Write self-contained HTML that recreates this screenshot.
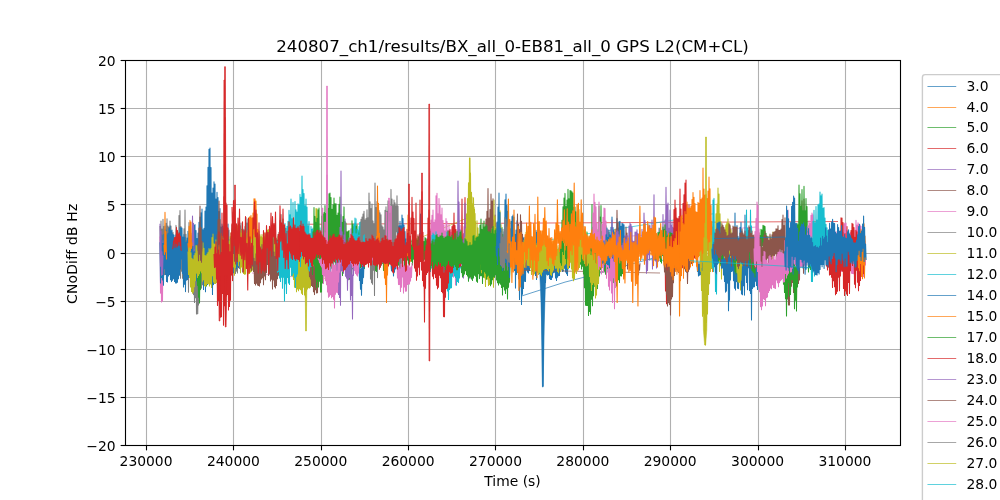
<!DOCTYPE html>
<html lang="en"><head><meta charset="utf-8"><title>CNoDiff GPS L2(CM+CL)</title>
<style>html,body{margin:0;padding:0;background:#fff;overflow:hidden}svg{display:block}</style></head>
<body><svg width="1000" height="500" viewBox="0 0 1000 500" font-family="'DejaVu Sans','Liberation Sans',sans-serif">
<rect width="1000" height="500" fill="#fff"/>
<defs><filter id="gray" x="0" y="0" width="1000" height="500" filterUnits="userSpaceOnUse"><feOffset dx="0" dy="0"/></filter><clipPath id="ax"><rect x="125.0" y="60.0" width="775.0" height="385.0"/></clipPath></defs>
<g stroke="#b0b0b0" stroke-width="1.111" fill="none"><line x1="146.50" y1="60.5" x2="146.50" y2="445.5"/><line x1="233.50" y1="60.5" x2="233.50" y2="445.5"/><line x1="321.50" y1="60.5" x2="321.50" y2="445.5"/><line x1="408.50" y1="60.5" x2="408.50" y2="445.5"/><line x1="495.50" y1="60.5" x2="495.50" y2="445.5"/><line x1="583.50" y1="60.5" x2="583.50" y2="445.5"/><line x1="670.50" y1="60.5" x2="670.50" y2="445.5"/><line x1="758.50" y1="60.5" x2="758.50" y2="445.5"/><line x1="845.50" y1="60.5" x2="845.50" y2="445.5"/><line x1="125.5" y1="397.50" x2="900.5" y2="397.50"/><line x1="125.5" y1="349.50" x2="900.5" y2="349.50"/><line x1="125.5" y1="301.50" x2="900.5" y2="301.50"/><line x1="125.5" y1="253.50" x2="900.5" y2="253.50"/><line x1="125.5" y1="204.50" x2="900.5" y2="204.50"/><line x1="125.5" y1="156.50" x2="900.5" y2="156.50"/><line x1="125.5" y1="108.50" x2="900.5" y2="108.50"/></g>
<g clip-path="url(#ax)" fill="none" stroke-width="0.694" stroke-linejoin="round"><path d="M160,226.1l.5,37 .5-42 .5,47.3 .5-39.4 .5,39 .5-48.7 .5,50.7 .5-43.5 .5,48.2 .5-45.4 .5,40.2 .5-46.2 .5,34 .5-38.6 .5,39.8 .5-32.5 .5,40.5 .5-39.1 .5,28.7 .5-35.1 .5,43.1 .5-38 .5,43.4 .5-36.6 .5,36 .5-36.7 .5,38.3 .5-28.3 .5,32 .5-30.5 .5,28 .5-46.3 .5,54.5 .5-48.2 .5,42 .5-41 .5,38.7 .5-55.8 .5,38.6 .5-43.7 .5,67.8 .5-51.7 .5,44.5 .5-32.6 .5,39.7 .5-39.2 .5,41.4 .5-51.7 .5,52.8 .5-71.5 .5,65.2 .5-41 .5,45 .5-38.5 .5,38.7 .5-40.4 .5,53.3 .5-69.9 .5,54.7 .5-35.7 .5,32.7 .5-40.8 .5,44.4 .5-32.9 .5,43.8 .5-45.7 .5,51.7 .5-42.4 .5,50.2 .5-53.3 .5,48.7 .5-57 .5,73.2 .5-67.8 .5,57.7 .5-63.6 .5,64.6 .5-57.5 .5,39 .5-55.1 .5,44.1 .5-31.5 .5,44.2 .5-52.5 .5,49.2 .5-53.1 .5,40.9 .5-30.3 .5,35.2 .5-32.4 .5,24.1 .5-32 .5,26 .5-22.3 .5,31.4 .5-26.7 .5,18.6 .5-30.1 .5,31.5 .5-23.9 .5,34.9 .5-34 .5,33.1 .5-31.1 .5,31 .5-23.2 .5,23.7 .5-30.9 .5,24.5 .5-28.1 .5,34.2 .5-34.2 .5,30.3 .5-29.1 .5,24 .5-31.1 .5,27.4 .5-18.9 .5,23.3 .5-26.7 .5,23.7 .5-26.6 .5,21.4 .5-22.4 .5,25.6 .5-22 .5,24.1 .5-16.2 .5,26.1 .5-27.3 .5,27.2 .5-26 .5,21.8 .5-31.4 .5,18.6 .5-26.7 .5,25.4 .5-26.1 .5,31.6 .5-21.4 .5,25.9 .5-29.5 .5,21.7 .5-24.4 .5,36.5 .5-26.1 .5,28.6 .5-33.1 .5,33.7 .5-23.9 .5,23.8 .5-26 .5,23.7 .5-30.9 .5,32.7 .5-37.1 .5,27.9 .5-31 .5,35.8 .5-42.8 .5,30.2 .5-32.8 .5,35.5 .5-29.3 .5,42.7 .5-42.9 .5,32.2 .5-31.6 .5,39.7 .5-43 .5,29.6 .5-38.4 .5,46.7 .5-41.2 .5,39.4 .5-43.6 .5,41.4 .5-39.9 .5,29 .5-32.7 .5,39.2 .5-31.7 .5,32.4 .5-30.3 .5,30.9 .5-36.2 .5,41.1 .5-29.4 .5,20.4 .5-23.1 .5,32 .5-29.5 .5,26.6 .5-19.5" stroke="#7f7f7f" stroke-width="1.05"/><path d="M196.40,277.2 L197.15,314.0 L197.85,314.0 L198.60,277.2" fill="#7f7f7f" stroke="#7f7f7f" stroke-width="0.7"/><path d="M160,236.4l.5,56.7 .5-53.4 .5,62.3 .5-59.4 .5,58.4 .5-60.3 .5,37.6" stroke="#e377c2" stroke-width="1.05"/><path d="M160,242.2l.5,40.8 .5-43 .5,37.4 .5-42.5 .5,45 .5-36.5 .5,41.9 .5-51 .5,34.5 .5-42.7 .5,48.3 .5-44.5 .5,51.6 .5-46.8 .5,47.2 .5-48.6 .5,42.7 .5-47.4 .5,46 .5-48.6 .5,53.7 .5-49 .5,50.9 .5-51.5 .5,50.2 .5-46 .5,44.5 .5-43.7 .5,46.4 .5-41.4 .5,42.8 .5-48.2 .5,48.3 .5-44.2 .5,43.4 .5-44.7 .5,41.3 .5-42.9 .5,39.4 .5-47.8 .5,41.4 .5-41.2 .5,31.3 .5-31.1 .5,45.6 .5-36.4 .5,49.9 .5-52.4 .5,49.6 .5-46.9 .5,54.3 .5-49.4 .5,37.9 .5-42.2 .5,41.7 .5-48.3 .5,46.1 .5-43.8 .5,42.2 .5-44.1 .5,39.7 .5-35.6 .5,44.4 .5-40.1 .5,43.5 .5-46.8 .5,35.5 .5-47.1 .5,44.1 .5-44.9 .5,52.2 .5-46.2 .5,50.4 .5-42.4 .5,47.2 .5-52.7 .5,45.1 .5-55.8 .5,48.4 .5-53.7 .5,54.9 .5-59.1 .5,58.8 .5-62.4 .5,70.1 .5-49.5 .5,59.8 .5-61.3 .5,57 .5-74.2 .5,80.8 .5-84.8 .5,76 .5-97.3 .5,98.8 .5-117.3 .5,109.8 .5-127.7 .5,122.2 .5-123.5 .5,135.2 .5-115.8 .5,116.3 .5-90.7 .5,101.4 .5-106.3 .5,96.5 .5-102.8 .5,84.9 .5-82.6 .5,90.7 .5-75.7 .5,73.6 .5-80.5 .5,75.7 .5-70.4 .5,78.7 .5-64.7 .5,65.5 .5-68.4 .5,70.1 .5-51.7 .5,60.7 .5-63.8 .5,58.1 .5-56 .5,47.8 .5-45.8 .5,50 .5-49.1 .5,43.8 .5-53.9 .5,50 .5-40.4 .5,43.4 .5-47.9 .5,53.8 .5-37.7 .5,35.8 .5-36.1 .5,33.7 .5-31.5 .5,32.9 .5-35.4 .5,28.9 .5-27 .5,31.2 .5-27.3 .5,24.3 .5-25.4 .5,22.2 .5-21 .5,23.5 .5-19.3 .5,17 .5-14.9 .5,16.1 .5-14.1 .5,11.5 .5-15" stroke="#1f77b4" stroke-width="1.05"/><path d="M300.0,224.3 452.0,223.5 838.0,221.5" stroke="#d62728"/><path d="M521.6,296.0 565.0,282.1 585.0,277.0 697.0,246.0" stroke="#1f77b4"/><path d="M252.0,273.0 318.0,279.0" stroke="#e377c2"/><path d="M312.0,283.5 468.0,217.6" stroke="#bcbd22"/><path d="M468.0,252.8 713.0,213.8" stroke="#17becf"/><path d="M160,223.7l.5,42.6 .5-35.1 .5,44 .5-23.5 .5,22.7 .5-18.8" stroke="#9467bd" stroke-width="1.05"/><path d="M191.5,245.2l.5,.2 .5-29.4 .5,29.6 .5-22.4 .5,27.9 .5-1.8" stroke="#9467bd" stroke-width="1.05"/><path d="M164,244.7l.5,9.7 .5-42.2 .5,39.6 .5-20.2 .5,28" stroke="#ff7f0e" stroke-width="1.05"/><path d="M188,243.1l.5,8.2 .5-24.9 .5,24.3 .5-30.3 .5,30.3 .5-28.7 .5,26.5 .5-6" stroke="#ff7f0e" stroke-width="1.05"/><path d="M202,249l.5,21 .5-15.3 .5,17.5 .5-16.5 .5,26.3 .5-20.9 .5,13.3 .5-17.2" stroke="#ff7f0e" stroke-width="1.05"/><path d="M246,240.2l.5,18.6 .5-20.9 .5,19.6 .5-26.9 .5,26.1 .5-39.2 .5,38.4 .5-39 .5,39.3 .5-40.8 .5,39.9 .5-37.3 .5,44.4 .5-49.3 .5,39.7 .5-54 .5,40.7 .5-40.8 .5,46.5 .5-44.2 .5,52.2 .5-39.3 .5,45.7 .5-30 .5,30.1 .5-19 .5,20.8 .5-10.2" stroke="#ff7f0e" stroke-width="1.05"/><path d="M172.5,249.1l.5-1.5 .5-6 .5-1 .5-3 .5,9.8 .5-10.1 .5,6.1 .5-16 .5,19.7 .5-16.7 .5,15.1 .5-11.5 .5,7.6 .5-8.7 .5,12.7 .5-9.3 .5,13.5 .5,.8" stroke="#d62728" stroke-width="1.05"/><path d="M197,258.9l.5,26.3 .5-16.1 .5,28.1 .5-27.9 .5,33.7 .5-36.8 .5,23.4 .5-26" stroke="#2ca02c" stroke-width="1.05"/><path d="M204,257.5l.5,20.1 .5-10.3 .5,16.5 .5-17.9 .5,20.1 .5-32.4 .5,17.5 .5-13.4" stroke="#2ca02c" stroke-width="1.05"/><path d="M188,251.4l.5,23 .5-26.3 .5,29.5 .5-29.9 .5,39.3 .5-34.3 .5,38.8 .5-33.2 .5,34.9 .5-33.7 .5,32.6 .5-36.6 .5,31.2 .5-33.3 .5,27.2 .5-35 .5,27.5 .5-27.4 .5,31.8 .5-26.1 .5,24.1 .5-23.7 .5,21.9 .5-25.3 .5,22.6 .5-22.8 .5,24.6 .5-20.8 .5,29.3 .5-38.4 .5,36.9 .5-31.6 .5,37.6 .5-30.2 .5,30.6 .5-30.4 .5,29 .5-30.7 .5,29.3 .5-31 .5,31.4 .5-35.3 .5,37.4 .5-36.2 .5,34.2 .5-35.6 .5,39.3 .5-50 .5,38.1 .5-41.6 .5,47.9 .5-38.2 .5,39.7 .5-39.2 .5,39.1 .5-43.6 .5,42.7 .5-37.6 .5,26.1 .5-35.1 .5,40.2 .5-29.1 .5,28.5 .5-36.9 .5,23.3 .5-28.1 .5,31.1 .5-28.6 .5,33.5 .5-30.7 .5,30.1 .5-33.7 .5,34 .5-36.4 .5,28.3 .5-29.3 .5,31.2 .5-23.5 .5,32.3 .5-27.2 .5,29.8 .5-33.9 .5,28.1 .5-32.2 .5,33.2 .5-36.9 .5,28.7 .5-33 .5,26.1 .5-25.2 .5,37.3 .5-25.8 .5,34.2 .5-36.4 .5,28.7 .5-41.1 .5,30.3 .5-30.9 .5,28.1 .5-28.7 .5,40.5 .5-39.8 .5,35.3 .5-31.7 .5,43.1 .5-39.6 .5,34 .5-36.7 .5,37.3 .5-29.6 .5,35.5 .5-31.6 .5,32.2 .5-29.5 .5,29.4 .5-41 .5,35.3 .5-28.5 .5,34 .5-29.9 .5,29.7 .5-27 .5,26.9 .5-28.1 .5,26.5 .5-32.5 .5,31.8 .5-32.6 .5,31.3 .5-40.2 .5,31.3 .5-26.1 .5,34.3 .5-30.9 .5,32.2 .5-34.3 .5,29.1 .5-25.4 .5,30.4 .5-31.6 .5,25 .5-32.3 .5,29.9 .5-26.6 .5,30.4 .5-28.3 .5,24.4 .5-26.8 .5,30.5 .5-27.2 .5,31.3 .5-32.2 .5,30.9 .5-35.3 .5,32.9 .5-30.9 .5,30.1 .5-34.3 .5,33.3 .5-33.9 .5,25.3 .5-25.8 .5,35.3 .5-34.3 .5,34.2 .5-35.3 .5,37.8 .5-36.9 .5,37.2 .5-36.4 .5,34.1 .5-26 .5,30.1 .5-29.3 .5,32.2 .5-33.9 .5,34.1 .5-28.7 .5,26.8 .5-33.7 .5,34.6 .5-33 .5,33.9 .5-30 .5,25.9 .5-27.7 .5,32.1 .5-28.4 .5,25.4 .5-26.3 .5,26.7 .5-27.6 .5,28.9 .5-26.6 .5,26.7 .5-29.5 .5,25.6 .5-31.2 .5,31.4 .5-26.6 .5,26.3 .5-29.8 .5,28.2 .5-29.9 .5,28.4 .5-27.9 .5,32.2 .5-29.3 .5,37 .5-35.4 .5,38.9 .5-31.5 .5,39.2 .5-40.2 .5,34.3 .5-40.9 .5,51.4 .5-46.4 .5,43.6 .5-41.3 .5,43.1 .5-45.7 .5,43.6 .5-47.2 .5,48.3 .5-47.5 .5,51 .5-39.1 .5,40.2 .5-45.1 .5,38 .5-50.5 .5,58.2 .5-50.5 .5,52.6 .5-54.1 .5,48 .5-51.7 .5,49.6 .5-39.4 .5,38.2 .5-38.8 .5,39 .5-44.2 .5,43.3 .5-47.8 .5,38.3 .5-43.8 .5,35.3 .5-38.6 .5,41 .5-41.3 .5,41.8 .5-49.7 .5,38.5 .5-52.2 .5,47.3 .5-47 .5,62.9 .5-39.2 .5,37.2 .5-32.7 .5,27.7 .5-17.4" stroke="#bcbd22" stroke-width="1.05"/><path d="M305.12,274.9 L305.65,331.0 L306.35,331.0 L306.88,274.9" fill="#bcbd22" stroke="#bcbd22" stroke-width="0.7"/><path d="M198,244.1l.5,16.7 .5-32.7 .5,26.2 .5-48.3 .5,54.3 .5-32.8 .5,34.8 .5-21.2" stroke="#8c564b" stroke-width="1.05"/><path d="M217,234.6l.5,22.7 .5-37.5 .5,24.7 .5-43.6 .5,43.2 .5-24.6 .5,38.3 .5-24.6" stroke="#8c564b" stroke-width="1.05"/><path d="M231,237.8l.5,14.1 .5-27.2 .5,25.7 .5-38.4 .5,41.4 .5-24.4 .5,32.3 .5-22.6" stroke="#8c564b" stroke-width="1.05"/><path d="M250,252.6l.5,15.4 .5-19.4 .5,21.8 .5-25.4 .5,20.9 .5-20.2 .5,25.9 .5-13.3 .5,25.1 .5-21.9 .5,23.5 .5-31.2 .5,29.5 .5-20.5 .5,22.3 .5-34.6 .5,34.9 .5-39.8 .5,40.5 .5-39.5 .5,36.2 .5-32.9 .5,29.1 .5-34.4 .5,33.2 .5-28.7 .5,35.6 .5-39.3 .5,30.5 .5-26.2 .5,30.1 .5-36.9 .5,29.5 .5-37.7 .5,29.8 .5-31.9 .5,42.8 .5-28.6 .5,27.1 .5-32.4 .5,39.4 .5-39.1 .5,37.4 .5-43.7 .5,53.5 .5-63.2 .5,54.1 .5-27.9 .5,34.8 .5-30.3 .5,31.5 .5-49.8 .5,47.3 .5-45.5 .5,38.7 .5-44.3 .5,40.8 .5-43 .5,42.6 .5-54.2 .5,37.8 .5-44 .5,44 .5-32.5 .5,24.6 .5-31.4 .5,29.8 .5-23.7 .5,28.2 .5-25.5 .5,29.8 .5-29.4 .5,25.9 .5-22.8 .5,26.8 .5-23.8 .5,21 .5-18 .5,18.2 .5-15.2" stroke="#8c564b" stroke-width="1.05"/><path d="M308,254.9l.5,14 .5-10.3 .5,18.1 .5-17.5 .5,19.7 .5-21 .5,27.5 .5-23.4 .5,24.4 .5-19.7 .5,25 .5-31.3 .5,34.2 .5-36.6 .5,31.7 .5-26.7 .5,29.9 .5-33.1 .5,32.9 .5-32.7 .5,25.8 .5-28.9 .5,16.9 .5-17.5 .5,15 .5-15" stroke="#8c564b" stroke-width="1.05"/><path d="M277,247.5l.5,24.7 .5-31 .5,30.3 .5-36.1 .5,42.7 .5-35.5 .5,38.9 .5-43.1 .5,38.8 .5-44.6 .5,55.6 .5-52.1 .5,41.1 .5-48.4 .5,72.2 .5-77.6 .5,60.3 .5-38.9 .5,48.6 .5-67.2 .5,51.2 .5-56.1 .5,61.8 .5-72.8 .5,74.1 .5-69.5 .5,52.4 .5-68.3 .5,76.7 .5-57 .5,56.4 .5-72.5 .5,70.3 .5-47.9 .5,52.8 .5-76.3 .5,86 .5-77.8 .5,66.9 .5-64.6 .5,61.9 .5-70 .5,51.7 .5-50.9 .5,50.7 .5-61 .5,72.1 .5-69.3 .5,60.7 .5-81.9 .5,77 .5-63.4 .5,51.3 .5-47.4 .5,62.2 .5-49.8 .5,56.4 .5-63.2 .5,61.8 .5-53.9 .5,56.2 .5-37.4 .5,43.9 .5-48.1 .5,49.5 .5-37.4 .5,33 .5-40.1 .5,39.8 .5-37.2 .5,30.4 .5-31.6 .5,32.4 .5-24.8 .5,24.3 .5-30.2 .5,38.2 .5-41.6 .5,40.8 .5-38 .5,38.9 .5-25.5 .5,28.4 .5-34.9 .5,26.3 .5-34.5 .5,28.9 .5-24.7 .5,28.6 .5-24.5 .5,31.2 .5-39.4 .5,35.9 .5-26.2 .5,27.4 .5-23.6 .5,26.4 .5-31.4 .5,21.6 .5-30.6 .5,29 .5-28.8 .5,36.8 .5-36.5 .5,42.6 .5-38.3 .5,40.3 .5-27.8 .5,20.6 .5-27.2 .5,27.7 .5-32.1 .5,31.5 .5-33.4 .5,29.9 .5-24.3 .5,27.4 .5-26.5 .5,25.4 .5-25.1 .5,24 .5-31.5 .5,29.1 .5-27.8 .5,33.8 .5-28.5 .5,31.3 .5-30.4 .5,18.4 .5-23.5 .5,21.7 .5-17.9 .5,23.6 .5-24.9 .5,22.7 .5-21.4 .5,26.3 .5-21.3 .5,25.3 .5-33.3 .5,26.3 .5-27.5 .5,37 .5-27.9 .5,25.2 .5-27.2 .5,21.3 .5-22.8 .5,22.8 .5-33 .5,25.6 .5-27.4 .5,24 .5-24.6 .5,29.2 .5-32.3 .5,36.3 .5-40.6 .5,38.1 .5-27.3 .5,27.2 .5-23 .5,26 .5-33.1 .5,32.9 .5-37 .5,34.1 .5-28.3 .5,30.4 .5-34.8 .5,29.4 .5-22 .5,29.5 .5-23.9 .5,25.7 .5-31.1 .5,22 .5-19.8 .5,23 .5-20 .5,25.6 .5-15" stroke="#17becf" stroke-width="1.05"/><path d="M368.0,245.0 810.0,268.0" stroke="#17becf"/><path d="M312,245.5l.5,28.9 .5-42.7 .5,32.4 .5-56.5 .5,58.4 .5-49.6 .5,62.7 .5-56.7 .5,65.2 .5-69.4 .5,63.1 .5-71.5 .5,77.2 .5-78.9 .5,73.2 .5-47.4 .5,58.2 .5-52.6 .5,52.5 .5-76 .5,66.9 .5-68.9 .5,64.4 .5-65.8 .5,48.5 .5-55.6 .5,65 .5-57 .5,56.4 .5-60.4 .5,51.5 .5-52.8 .5,56.8 .5-71.2 .5,52.1 .5-52.8 .5,68.7 .5-64.3 .5,70.7 .5-58.8 .5,54.4 .5-59.1 .5,60.2 .5-66.9 .5,58.2 .5-52.4 .5,65.7 .5-65.7 .5,59.8 .5-48.3 .5,59.9 .5-62.2 .5,58.1 .5-66.8 .5,50.5 .5-57.7 .5,71.6 .5-54 .5,50.2 .5-42.6 .5,53.3 .5-59.2 .5,44.1 .5-53.6 .5,59 .5-44.7 .5,48.9 .5-47.2 .5,45.6 .5-36.6 .5,45.1 .5-45.8 .5,35.6 .5-36.2 .5,48.6 .5-38.9 .5,39.7 .5-30.9 .5,27.8 .5-56.1 .5,47.9 .5-44.6 .5,45.8 .5-36.2 .5,29.3 .5-36.5 .5,40.4 .5-40.7 .5,31.6 .5-33 .5,35 .5-29.1 .5,38.1 .5-35.9 .5,30 .5-35.4" stroke="#2ca02c" stroke-width="1.05"/><path d="M360,236.6l.5,31.2 .5-36.5 .5,35.5 .5-31 .5,28.6 .5-23.9 .5,25.8 .5-25.4 .5,27.7 .5-29.6 .5,21.5 .5-28.7 .5,32.1 .5-26.5 .5,22.2 .5-26.1 .5,27.9 .5-26.2 .5,25.3 .5-27.9 .5,25.7 .5-26.2 .5,25.3 .5-16 .5,24.2 .5-22.4 .5,19.2 .5-25.2 .5,28.9 .5-20.1 .5,24.7 .5-21 .5,21.7 .5-30.6 .5,19.9 .5-27.1 .5,28.6 .5-22.9 .5,17.7 .5-17.4 .5,21.5 .5-18.9 .5,15.9 .5-20.6 .5,26 .5-19.4 .5,26.3 .5-26 .5,18.4 .5-22.3 .5,17.6 .5-23.4 .5,31.5 .5-31.4 .5,16.8 .5-16.7 .5,19.3 .5-19.2 .5,28.9 .5-27.4 .5,24.8 .5-13 .5,21.5 .5-20.7 .5,21.2 .5-30 .5,27 .5-22.3 .5,13.3 .5-21.7 .5,24.6 .5-16.3 .5,19.9 .5-20.3 .5,22.6 .5-24.1 .5,22.1 .5-17.2 .5,19.2 .5-26.3 .5,28.3 .5-21.3 .5,15.6 .5-19.4 .5,21.2 .5-29 .5,23.9 .5-14 .5,23.1 .5-17.2 .5,17 .5-26.8 .5,16.6 .5-15.3 .5,16.6 .5-14.5 .5,18.5 .5-20 .5,19 .5-18.3 .5,14.7 .5-14.5 .5,16.2 .5-21.2 .5,24.9 .5-22.8 .5,17 .5-17.8 .5,18.7 .5-22.7 .5,25.8 .5-24.8 .5,23.7 .5-22 .5,15.5 .5-19.2 .5,18.6 .5-17.9 .5,18.4 .5-19 .5,20.9 .5-16.9 .5,18 .5-13.1 .5,20.4 .5-24.1 .5,19 .5-19.2 .5,17.8 .5-21.7 .5,18.4 .5-17.4 .5,22.1 .5-19.8 .5,16.4 .5-19.1 .5,18.8 .5-13 .5,18.6 .5-17.6 .5,20.1 .5-16 .5,14.9 .5-15 .5,17.2 .5-23.2 .5,19.6 .5-14 .5,14.1 .5-20.9 .5,16.4 .5-15.6 .5,24.4 .5-20.9 .5,9.9 .5-16.3 .5,18.3 .5-18.2 .5,17.8 .5-17.2 .5,23.4 .5-17.6 .5,15.6 .5-21.6 .5,25.7 .5-13.9 .5,17.2 .5-19.2 .5,19.5 .5-17.1 .5,13.9 .5-13.1 .5,17.1 .5-13.1 .5,13.5 .5-18.4 .5,11.2 .5-18.8 .5,19.8 .5-24.4 .5,22.3 .5-22.4 .5,19.8 .5-12.1 .5,21.9 .5-22.2 .5,23.5 .5-25 .5,20.8 .5-27.1 .5,26.5 .5-26.6 .5,23.8 .5-15.5 .5,16.5 .5-16.1 .5,20.2 .5-20.1 .5,18.3 .5-22.8 .5,18.5 .5-19.6 .5,30 .5-21.5 .5,26 .5-30.1 .5,21.3 .5-21.9 .5,22.8 .5-31.9 .5,33.4 .5-28.4 .5,32.1 .5-21 .5,22.5 .5-23.6 .5,27.4 .5-29.7 .5,27.6 .5-27.4 .5,22 .5-28.3 .5,27.6 .5-25 .5,22.5 .5-27.5 .5,36.4 .5-37.9 .5,29.3 .5-29.1 .5,30.3 .5-26.4 .5,27.8 .5-25.5 .5,35.8 .5-39.5 .5,28.3 .5-34.1 .5,41.7 .5-39.1 .5,36.3 .5-37.5 .5,37.5 .5-44 .5,51.6 .5-47.1 .5,41 .5-56.3 .5,37 .5-29.3 .5,46.1 .5-46.8 .5,33.2 .5-39.8 .5,41.2 .5-28 .5,48.7 .5-38 .5,32.9 .5-38.4 .5,43.8 .5-40.5 .5,28.5 .5-35.2 .5,37.7 .5-40.4 .5,50.3 .5-59.1 .5,38.1 .5-35.1 .5,32.9 .5-28 .5,44 .5-40.1 .5,46.1 .5-45.1 .5,47.2 .5-41.4 .5,33.3 .5-38.2 .5,45.6 .5-51.2 .5,36.2 .5-41.7 .5,44.7 .5-37.6 .5,52.2 .5-46.7 .5,45.6 .5-45.3 .5,53.1 .5-50 .5,44.8 .5-33.7 .5,44.3 .5-41.6 .5,29.4 .5-32.1 .5,20.6 .5-20.1" stroke="#2ca02c" stroke-width="1.05"/><path d="M352,240l.5,19.6 .5-26.1 .5,25.2 .5-34.5 .5,33.6 .5-39.8 .5,50.4 .5-34.6 .5,39.3 .5-44.1 .5,33.4 .5-32.4 .5,37.1 .5-31.8 .5,34.3 .5-47.4 .5,30.8 .5-31.3 .5,43 .5-43.6 .5,40 .5-34.5 .5,31.4 .5-30.8 .5,30.6 .5-31.3 .5,33.5 .5-26 .5,25 .5-21.2 .5,24.7 .5-20.1 .5,19.9" stroke="#17becf" stroke-width="1.05"/><path d="M336,242.5l.5,39.5 .5-33.2 .5,40.4 .5-36.6 .5,42 .5-27.5 .5,30.3 .5-70 .5,77.9 .5-134.3 .5,99.4 .5-38.6 .5,39.6 .5-32 .5,33.8 .5-38.3 .5,28.4 .5-44.3 .5,57.3 .5-30.8 .5,32.6 .5-28.6 .5,40.7 .5-44.9 .5,34.5 .5-41.9 .5,39.9 .5-32 .5,54.3 .5-71.2 .5,66.6 .5-20.5 .5,44 .5-55.2 .5,11.6 .5-18.5" stroke="#9467bd" stroke-width="1.05"/><path d="M358,237.3l.5,13.3 .5-11.6 .5,15.1 .5-17 .5,22.4 .5-40.2 .5,25.9 .5-28.2 .5,25.5 .5-28.5 .5,20.7 .5-23.4 .5,22.4 .5-13.7 .5,28.9 .5-30.3 .5,24.5 .5-33.4 .5,44.6 .5-36.5 .5,34.2 .5-59 .5,55.8 .5-47 .5,77.1 .5-70.3 .5,74.2 .5-78.7 .5,80.2 .5-63.4 .5,49.3 .5-46.5 .5,71.8 .5-112.5 .5,76.7 .5-52.2 .5,49.5 .5-55.4 .5,76 .5-42.3 .5,27.2 .5-52 .5,47.4 .5-45.1 .5,39.9 .5-37.9 .5,50.4 .5-39.4 .5,37.3 .5-36.1 .5,33.3 .5-30.4 .5,25.8 .5-45.4 .5,51.6 .5-55 .5,43.7 .5-39.3 .5,26.6 .5-37 .5,44.6 .5-44.4 .5,43.6 .5-31.5 .5,31.5 .5-55.3 .5,69.3 .5-59.6 .5,61.1 .5-54.7 .5,41.4 .5-46.9 .5,60.6 .5-57.9 .5,41.9 .5-38.8 .5,26 .5-36 .5,65.6 .5-55.5 .5,51.7 .5-31.3 .5,42.1 .5-41.3 .5,41.4 .5-36.5 .5,27.6 .5-22.6 .5,22.9 .5-13.4" stroke="#7f7f7f" stroke-width="1.05"/><path d="M376.5,236l.5,27.5 .5-77.5 .5,58.2 .5-40.9 .5,49 .5-19.3" stroke="#ff7f0e" stroke-width="1.05"/><path d="M384,254.5l.5,23.6 .5-23.3 .5,29.7 .5-31 .5,48.9 .5-47.3 .5,20 .5-21.6" stroke="#ff7f0e" stroke-width="1.05"/><path d="M407,242.1l.5,13.6 .5-40.7 .5,41.1 .5-31 .5,33.3 .5-22 .5,25.3" stroke="#ff7f0e" stroke-width="1.05"/><path d="M359,267.1l.5,13.3 .5-11.5 .5,20.4 .5-20.9 .5,26.8 .5-29.5 .5,17.8 .5-18.9 .5,13 .5-15.2" stroke="#1f77b4" stroke-width="1.05"/><path d="M391,261.9l.5,9.1 .5-7 .5,6.6 .5-7.1 .5,12.5 .5-12 .5,8.2 .5-9.8 .5,6.6 .5-8.6" stroke="#1f77b4" stroke-width="1.05"/><path d="M398,231.8l.5,18.8 .5-24.9 .5,28.9 .5-33.4 .5,34.8 .5-30.2 .5,31.3 .5-42.1 .5,41.2 .5-37.8 .5,29.9 .5-23.2 .5,28.2 .5-21.8 .5,26 .5-19" stroke="#1f77b4" stroke-width="1.05"/><path d="M418.5,243.4l.5,18.7 .5-28.6 .5,22.9 .5-42.4 .5,43.3 .5-24.5 .5,27.3" stroke="#1f77b4" stroke-width="1.05"/><path d="M439.5,240.3l.5,17.8 .5-41.1 .5,46.2 .5-26.8 .5,25 .5-17.4 .5,19.3" stroke="#1f77b4" stroke-width="1.05"/><path d="M318,258l.5,1.6 .5-.3 .5,3.5 .5-3.3 .5,5.7 .5-6.2 .5,8 .5-10.4 .5,17.9 .5-27.2 .5,36.1 .5-24.4 .5,17 .5-43.3 .5,48 .5-19 .5,23.1 .5-109.9 .5,117.1 .5-30.7 .5,35.9 .5-33.6 .5,32.6 .5-33.8 .5,32.4 .5-22.7 .5,25.6 .5-36.3 .5,35.2 .5-34.9 .5,37.5 .5-34.2 .5,43 .5-42.7 .5,28.9 .5-30.7 .5,28.8 .5-21.2 .5,21.6 .5-29.8 .5,19 .5-18.8 .5,9.1 .5-10.8 .5,2.3 .5-5.5 .5,1.2 .5-1.3 .5,1.2 .5-.8 .5,1.6 .5-1.6 .5,1.5 .5-1.4 .5,.9 .5-1.2 .5,1.3 .5-1.5 .5,1.4 .5-1.6 .5,1.8 .5-1.6 .5,1.7 .5-1.1 .5,1.1 .5-1.3 .5,5.4 .5-4.3 .5,8.1 .5-11 .5,9.5 .5-9.5 .5,13.9 .5-12.7 .5,15.7 .5-13.3 .5,14.8 .5-15.7 .5,16.7 .5-19.4 .5,16.4 .5-13.7 .5,2.8 .5-4.3 .5,1.3 .5-1 .5,1.4 .5-1.7 .5,1.5 .5-1.5 .5,1.6 .5-1.2 .5,1.3 .5-1.3 .5,1.8 .5-1.7 .5,1.6 .5-1.5 .5,1.4 .5-1.6 .5,1.8 .5-1.6 .5,1.5 .5-1.1 .5,1.2 .5-1.1 .5,1 .5-1.9 .5,1.8 .5-1.6 .5,1.3 .5-1.6 .5,1.6 .5-1.5 .5,1.7 .5-1.7 .5,1.6 .5-1.2 .5,1.6 .5-1.9 .5,1.7 .5-1.6 .5,1.4 .5-1.6 .5,1.6 .5-1.5 .5,1.8 .5-1.5 .5,1.6 .5-1.5 .5,1.5 .5-1.3 .5,1.3 .5-1.4 .5,1.4 .5-11.9 .5,11.7 .5-12.7 .5,12.8 .5-1.6 .5,1.4 .5-38.1 .5,38.1 .5-1.3 .5,1.4 .5-21.1 .5,21 .5-1.4 .5,1 .5-1.2 .5,1.3 .5-1.3 .5,1.7 .5-1.7 .5,5.2 .5-3.6 .5,8.5 .5-6.4 .5,16.1 .5-10.6 .5,17.2 .5-17.2 .5,17 .5-15.3 .5,22.4 .5-27.4 .5,23.1 .5-31.3 .5,21 .5-15.8 .5,32 .5-27.5 .5,21.3 .5-20.2 .5,24.5 .5-21.6 .5,21.3 .5-25.7 .5,19.3 .5-18.2 .5,17.4 .5-19.7 .5,20.1 .5-16.4 .5,13.4 .5-14.4 .5,10.7 .5-14.5" stroke="#e377c2" stroke-width="1.05"/><path d="M326.45,247.1 L326.65,86.0 L327.35,86.0 L327.55,247.1" fill="#e377c2" stroke="#e377c2" stroke-width="0.7"/><path d="M322.06,257.5 L322.15,208.0 L322.85,208.0 L322.94,257.5" fill="#e377c2" stroke="#e377c2" stroke-width="0.7"/><path d="M324.67,266.1 L324.65,222.0 L325.35,222.0 L325.33,266.1" fill="#e377c2" stroke="#e377c2" stroke-width="0.7"/><path d="M386.17,251.9 L386.15,212.0 L386.85,212.0 L386.83,251.9" fill="#e377c2" stroke="#e377c2" stroke-width="0.7"/><path d="M388.62,249.8 L388.65,198.0 L389.35,198.0 L389.38,249.8" fill="#e377c2" stroke="#e377c2" stroke-width="0.7"/><path d="M390.67,251.1 L390.65,206.0 L391.35,206.0 L391.33,251.1" fill="#e377c2" stroke="#e377c2" stroke-width="0.7"/><path d="M428,234.4l.5,37.1 .5-45.4 .5,45.3 .5-42.3 .5,38.3 .5-47.4 .5,38.5 .5-43.2 .5,58 .5-63.2 .5,54.7 .5-42.6 .5,46.1 .5-48.4 .5,42.6 .5-66.7 .5,54.7 .5-57.2 .5,55.2 .5-34.7 .5,44.9 .5-60.3 .5,63.4 .5-56.7 .5,44 .5-34.3 .5,38.3 .5-45.2 .5,55.1 .5-42.4 .5,53.4 .5-49.3 .5,38.8 .5-32.4 .5,30.5 .5-43.2 .5,48.2 .5-45.2 .5,40.7 .5-31.8 .5,44.7 .5-51.3 .5,44.9 .5-39.3 .5,47.8 .5-44.9 .5,37.1 .5-39.7 .5,42.8 .5-40.7 .5,45.4 .5-43.9 .5,42.2 .5-42.1 .5,51.7 .5-46.3 .5,41.9 .5-38.4 .5,37.1 .5-37.9 .5,32.8 .5-37.2 .5,25.2 .5-36.9 .5,39.5 .5-26.6 .5,27.3 .5-24.9 .5,30.3 .5-36.1 .5,15.5 .5-23.8 .5,26.3 .5-26 .5,23.9 .5-23.6 .5,34.2 .5-25.9 .5,28.1 .5-22.3 .5,19.8 .5-18.2 .5,22.7 .5-28.1 .5,21.2 .5-18.6 .5,23.3 .5-12 .5,11.9 .5-12.8" stroke="#e377c2" stroke-width="1.05"/><path d="M430,236.5l.5,35 .5-28.1 .5,24.5 .5-32.6 .5,25.2 .5-27.5 .5,22.1 .5-20.5 .5,21.3 .5-20.2 .5,19.8 .5-23.8 .5,32.5 .5-19.2 .5,22.7 .5-27.2 .5,32.8 .5-28.9 .5,23.8 .5-30.9 .5,31.5 .5-29.1 .5,30.2 .5-26.1 .5,25.4 .5-24.5 .5,27.6 .5-26.7 .5,34.2 .5-36.5 .5,25.8 .5-31.1 .5,36.1 .5-42.1 .5,58.9 .5-36.5 .5,45 .5-45.4 .5,35.5 .5-33.7 .5,32.3 .5-42.4 .5,42.1 .5-37.6 .5,26.1 .5-38.7 .5,35.4 .5-29.5 .5,32.6 .5-34.3 .5,35.6 .5-35 .5,42.9 .5-28.2 .5,24.3 .5-26.2 .5,27.4 .5-28.4 .5,23.8 .5-25.7 .5,15.7 .5-20.7 .5,15.7 .5-13 .5,15.9 .5-18.3 .5,11.5 .5-15.8 .5,19.1 .5-16.8 .5,15.4 .5-13 .5,18.3 .5-18.1 .5,13.7 .5-13.4" stroke="#17becf" stroke-width="1.05"/><path d="M432,243l.5,33.2 .5-16.6 .5,19.1 .5-36.4 .5,31.5 .5-28.3 .5,31.9 .5-25.1 .5,32.9 .5-34.1 .5,37.7 .5-39.8 .5,38.3 .5-38.1 .5,26 .5-30.1 .5,32.7 .5-38.5 .5,52.2 .5-53 .5,54.2 .5-47.2 .5,71.1 .5-43.5 .5,43.6 .5-77.6 .5,58.2 .5-54.6 .5,45.9 .5-32.5 .5,31.9 .5-29.5 .5,24.4 .5-51.9 .5,40.8 .5-42.1 .5,43.4 .5-33 .5,32.7 .5-46.4 .5,45.9 .5-47.5 .5,30 .5-41.8 .5,51.8 .5-39.4 .5,30.1 .5-26 .5,28 .5-17.9 .5,16.1 .5-25 .5,29.1 .5-23 .5,30.1 .5-30.6 .5,29.9 .5-29.1 .5,20.1 .5-58.2 .5,63.5 .5-19.8 .5,22.8 .5-32.1 .5,22.3 .5-58.1 .5,66.8 .5-33.3 .5,27.3" stroke="#d62728" stroke-width="1.05"/><path d="M484,242.9l.5,15.1 .5-31.5 .5,30.1 .5-37.5 .5,41.2 .5-49.1 .5,50.3 .5-73 .5,77 .5-47.5 .5,41.1 .5-49.6 .5,53.4 .5-68.9 .5,57.9 .5-50.8 .5,39.1 .5-41.5 .5,60 .5-38.7 .5,45.7 .5-50.7 .5,45.5 .5-36.4 .5,37.1 .5-23.2 .5,23.9" stroke="#8c564b" stroke-width="1.05"/><path d="M455,253l.5,3.8 .5-14.4 .5,15 .5-23 .5,20.7 .5-74.1 .5,59.5 .5-38.6 .5,45.1 .5-17.4 .5,20.1 .5-9.9 .5,24.2 .5-17.3 .5,10.4 .5-16.6 .5,37.5 .5-43.9 .5,13 .5-44.1 .5,42.1 .5-11.2 .5,19.8 .5-7.7 .5,12.4" stroke="#9467bd" stroke-width="1.05"/><path d="M468.5,263.8l.5,8 .5-7.7 .5,14.5 .5-17.1 .5,4.2" stroke="#9467bd" stroke-width="1.05"/><path d="M465,237.6l.5,20.1 .5-28.8 .5,24.2 .5-31 .5,39.4 .5-48.1 .5,57.7 .5-72.5 .5,61.6 .5-102.2 .5,103.7 .5-55.7 .5,51.7 .5-60.7 .5,53.1 .5-46 .5,41.8 .5-38.6 .5,38.5 .5-32.3 .5,48 .5-25.2 .5,32 .5-47.6 .5,37.6 .5-30.4 .5,39.5 .5-30.1 .5,24.3 .5-26.9 .5,25.6 .5-22.8 .5,35.3 .5-42 .5,33.9 .5-32.2 .5,27.9 .5-30.6 .5,48 .5-38 .5,46.6 .5-44.3 .5,32.5 .5-37.4 .5,41.9 .5-29.9 .5,36.4 .5-52.7 .5,51.7 .5-47.7 .5,38.4 .5-32.7 .5,29.6 .5-43.4 .5,39.7 .5-34.5 .5,53.3 .5-87.3 .5,77.4 .5-60.9 .5,51.3 .5-40.6 .5,43.2 .5-40.1 .5,44.7 .5-48.6 .5,36.6 .5-43 .5,45.8 .5-55 .5,46.5 .5-32.9 .5,44.1 .5-24.8 .5,23.7 .5-26.2 .5,26.6 .5-12.3" stroke="#bcbd22" stroke-width="1.05"/><path d="M466.5,213.5l.5,22.6 .5-37.5 .5,37.6 .5-53.4 .5,42.9 .5-67.7 .5,70.3 .5-55.4 .5,66.4 .5-47 .5,50.8 .5-39 .5,34.6 .5-41 .5,42.9 .5-31.4 .5,32.6 .5-20.5" stroke="#bcbd22" stroke-width="1.05"/><path d="M430,242.4l.5,27.3 .5-25.2 .5,21 .5-24.5 .5,20.3 .5-22.1 .5,29.4 .5-23.5 .5,21.1 .5-26.4 .5,24.1 .5-28.3 .5,29.6 .5-30.6 .5,31.4 .5-28.9 .5,24.4 .5-23.9 .5,26.6 .5-28.3 .5,26.6 .5-26.8 .5,30.7 .5-33.3 .5,32.3 .5-29 .5,29.4 .5-27.4 .5,28 .5-29.4 .5,32.5 .5-32.4 .5,28.1 .5-29.1 .5,27.8 .5-32.8 .5,29.5 .5-24 .5,28.2 .5-28.4 .5,29.2 .5-28 .5,28.8 .5-31.2 .5,30.5 .5-25.5 .5,27.3 .5-28.8 .5,25.9 .5-31.4 .5,33.2 .5-26.3 .5,29.6 .5-38.1 .5,38.1 .5-32.2 .5,29.9 .5-31.5 .5,27.6 .5-31.3 .5,30.7 .5-32.2 .5,32.8 .5-24.4 .5,36.1 .5-32.4 .5,32.9 .5-32 .5,30.3 .5-35.5 .5,31.5 .5-30.3 .5,31.2 .5-29.3 .5,33.6 .5-29.2 .5,35.3 .5-35.7 .5,31.4 .5-34.4 .5,34.4 .5-31.4 .5,33.3 .5-34.2 .5,35.7 .5-44.3 .5,38.5 .5-39.3 .5,39.9 .5-34.1 .5,35.1 .5-38.2 .5,43.3 .5-44.1 .5,44.6 .5-45.1 .5,36.9 .5-39.7 .5,37.9 .5-46.5 .5,38.8 .5-45 .5,50.4 .5-40.1 .5,40.9 .5-46.9 .5,50 .5-46.3 .5,44.6 .5-44.4 .5,46 .5-48.8 .5,54.8 .5-53.2 .5,50.1 .5-44.9 .5,43.9 .5-43 .5,45.6 .5-46.5 .5,54.4 .5-52.1 .5,50.3 .5-54.7 .5,50.5 .5-53.1 .5,50.4 .5-43.1 .5,43.2 .5-46.6 .5,44.3 .5-46 .5,51.3 .5-46.6 .5,44.4 .5-47.3 .5,48.9 .5-48 .5,51.4 .5-47.3 .5,43.4 .5-47.6 .5,56 .5-50 .5,57.6 .5-51.8 .5,41.3 .5-40 .5,45.6 .5-50.7 .5,50 .5-48.5 .5,47.8 .5-40.1 .5,42.6 .5-45.2 .5,41.2 .5-31.9 .5,26.9 .5-21" stroke="#2ca02c" stroke-width="1.05"/><path d="M496,246.3l.5,9.6 .5-33.9 .5,42.4 .5-57.4 .5,40.6 .5-54.5 .5,62.9 .5-43.5 .5,52.9 .5-37 .5,33.4 .5-23.8 .5,32.6 .5-33.2 .5,30.4 .5-36 .5,23.5 .5-55.6 .5,62.7 .5-68.4 .5,71.3 .5-59.9 .5,52.2 .5-46.3 .5,55.2 .5-35.6 .5,46.6 .5-48.7 .5,31.6 .5-39.2 .5,38.5 .5-43.1 .5,48.4 .5-50 .5,43.2 .5-41.2 .5,53.6 .5-36.3 .5,53.8 .5-58 .5,44.4 .5-53.8 .5,46.7 .5-39.5 .5,50.9 .5-48.5 .5,69.3 .5-62.6 .5,40.6 .5-41.8 .5,68.7 .5-62.8 .5,52.5 .5-56.2 .5,50.4 .5-51 .5,43.8 .5-40.9 .5,41.3 .5-43.1 .5,31.5 .5-22.8 .5,24.7 .5-23.6 .5,24.7 .5-25.1 .5,22.6 .5-29.6 .5,18.9 .5-23.6 .5,31.3 .5-30.2 .5,33.9 .5-31.3 .5,28.7 .5-30.7 .5,31.4 .5-26.9 .5,33 .5-45.2 .5,49.2 .5-47.2 .5,35.5 .5-36.7 .5,41.3 .5-41.7 .5,42.7 .5-36.8 .5,35 .5-29.4 .5,37.9 .5-35.5 .5,103.3 .5-105.1 .5,54.9 .5-56.4 .5,34.9 .5-31 .5,37.3 .5-34 .5,25.9 .5-30.4 .5,31.2 .5-30.5 .5,29.8 .5-21.9 .5,26.1 .5-28.1 .5,28.9 .5-20.9 .5,20.9 .5-23 .5,20.9 .5-25.4 .5,20.9 .5-23 .5,22.4 .5-18.1 .5,23.9 .5-25.8 .5,28.2 .5-27.3 .5,24.1 .5-24.5 .5,23 .5-27.8 .5,27.7 .5-28.5 .5,24.4 .5-25.7 .5,17.3 .5-15.8 .5,24.3 .5-21.8 .5,21.3 .5-20.2 .5,17.4 .5-16.4 .5,20 .5-24.8 .5,26.7 .5-21.8 .5,23.6 .5-27 .5,20.2 .5-14.1 .5,12.9 .5-17.1" stroke="#1f77b4" stroke-width="1.05"/><path d="M541.37,279.0 L542.45,387.0 L543.15,387.0 L544.23,279.0" fill="#1f77b4" stroke="#1f77b4" stroke-width="0.7"/><path d="M539.4,266 L540.6,292 L541.6,322 L542.5,386 L543.2,386 L544.2,325 L545.2,292 L546.2,266Z" fill="#1f77b4" stroke="#1f77b4" stroke-width="0.5"/><path d="M500,243.3l.5,21.2 .5-31.7 .5,33.2 .5-36.7 .5,38.4 .5-30.6 .5,30.1 .5-37.9 .5,40.9 .5-52.6 .5,40.7 .5-38.9 .5,39.6 .5-32 .5,43 .5-45.9 .5,37.9 .5-21.4 .5,21.7 .5-17.4" stroke="#7f7f7f" stroke-width="1.05"/><path d="M516.5,239.5l.5,19.3 .5-44.8 .5,50.9 .5-40.7 .5,32 .5-26.7 .5,29.2 .5-44 .5,38.1 .5-31.6 .5,31.7 .5-18.7 .5,25" stroke="#8c564b" stroke-width="1.05"/><path d="M523.0,270.2 660.0,273.0" stroke="#8c564b"/><path d="M523,242.6l.5,21.2 .5-23.4 .5,26.8 .5-27.7 .5,22.5 .5-29.7 .5,27.4 .5-23.9 .5,29.5 .5-33.3 .5,33.6 .5-32.1 .5,32.1 .5-33.8 .5,35.9 .5-27.9 .5,34.6 .5-36.9 .5,31.7 .5-30.2 .5,36.1 .5-32.3 .5,30.9 .5-39.2 .5,36.8 .5-26 .5,23.6 .5-25.6 .5,29.3 .5-29.7 .5,31.5 .5-30.4 .5,28.4 .5-29.2 .5,31 .5-25.5 .5,27 .5-32.3 .5,28.6 .5-29.3 .5,27 .5-31.8 .5,31 .5-29 .5,28.7 .5-25 .5,24.8 .5-30.5 .5,31.6 .5-22.8 .5,24.3 .5-28 .5,25.4 .5-26.7 .5,32.9 .5-31.5 .5,32.3 .5-27.3 .5,23.9 .5-30.5 .5,28.6 .5-30.4 .5,25.6 .5-25 .5,27.9 .5-21.5 .5,21.4 .5-22.4 .5,25.8 .5-22.3 .5,23.5 .5-27.5 .5,22.7 .5-18.1 .5,21.7 .5-24.7 .5,22.8 .5-25.1 .5,24.3 .5-20.8 .5,21.8 .5-23.5 .5,19 .5-21.9 .5,20.7 .5-20.7 .5,17.9 .5-17.8 .5,24.7 .5-22.2 .5,22.6 .5-23.8 .5,20.2 .5-19.9" stroke="#bcbd22" stroke-width="1.05"/><path d="M560,244.1l.5,18.6 .5-27.1 .5,29.6 .5-44.9 .5,31.1 .5-44.6 .5,47.6 .5-56.3 .5,44.6 .5-49.3 .5,65 .5-52 .5,57.3 .5-63.6 .5,58 .5-68.8 .5,63.3 .5-53.8 .5,56.1 .5-64.4 .5,58.7 .5-58.5 .5,64.4 .5-63.4 .5,54.3 .5-53 .5,67.6 .5-53.4 .5,59 .5-59.2 .5,48.4 .5-43.6 .5,45.9 .5-35.3 .5,37.3 .5-25.9" stroke="#2ca02c" stroke-width="1.05"/><path d="M578,244l.5,19.8 .5-30.5 .5,27.4 .5-24.2 .5,27.7 .5-22.2 .5,26.9 .5-28.3 .5,25.7 .5-22.8 .5,30.4 .5-40.6 .5,54.4 .5-48 .5,65.5 .5-59.9 .5,60.2 .5-73.6 .5,73.5 .5-62 .5,72.1 .5-57.2 .5,53.3 .5-75.8 .5,78.3 .5-80 .5,65.2 .5-94.7 .5,101.2 .5-78.4 .5,68.4 .5-70.5 .5,60.9 .5-62.3 .5,61.3 .5-57.4 .5,58.9 .5-57.2 .5,59.1 .5-46.8 .5,39 .5-74.8 .5,69.9 .5-58.8 .5,52.5 .5-64 .5,68 .5-41.7 .5,35.7 .5-33.3 .5,33.8 .5-39.8 .5,42.5 .5-34.6 .5,38 .5-48.4 .5,45.1 .5-40.6 .5,38.7 .5-38.9 .5,35.6 .5-33.5 .5,39.1 .5-23.3 .5,31.4 .5-32.1 .5,34.4 .5-32.5 .5,35.6 .5-30.5 .5,28.2 .5-31 .5,30.8 .5-30.2 .5,33.6 .5-32.6 .5,33 .5-31.7 .5,26.3 .5-31 .5,30 .5-27.1 .5,29.9 .5-34 .5,27.2 .5-27.6 .5,27.9 .5-25.6 .5,23.2 .5-25.3 .5,19.9 .5-22.4 .5,19.7 .5-17.2 .5,18.1 .5-19" stroke="#2ca02c" stroke-width="1.05"/><path d="M570,247.9l.5,14.4 .5-17.5 .5,24.1 .5-31.8 .5,40.9 .5-34 .5,36.7 .5-53 .5,50.9 .5-56.1 .5,48.5 .5-41.9 .5,44.3 .5-51 .5,39.7 .5-57.1 .5,64.3 .5-59.9 .5,58.1 .5-39 .5,33.2 .5-36.1 .5,28.5 .5-20.2 .5,24.8 .5-28.5 .5,24.4 .5-24.9 .5,33.9 .5-33.7 .5,21.2 .5-18.3 .5,19.3 .5-14 .5,27.2 .5-22.7 .5,20.4 .5-20.8 .5,34.3 .5-25.2 .5,31 .5-26.9 .5,35.1 .5-38.8 .5,32.8 .5-44.8 .5,43 .5-32.2 .5,34.6 .5-31.2 .5,44.1 .5-34.8 .5,31.9 .5-41.8 .5,31.2 .5-29 .5,27.9 .5-23.3 .5,9.7" stroke="#bcbd22" stroke-width="1.05"/><path d="M592,238.4l.5,12.8 .5-38.2 .5,41.6 .5-60.6 .5,52.3 .5-44.1 .5,42.5 .5-38 .5,57 .5-40.5 .5,30.6 .5-21.7 .5,37 .5-67.1 .5,64.3 .5-44.2 .5,44.9 .5-27.7 .5,34.7 .5-49.8 .5,43.1 .5-50.1 .5,54.9 .5-64 .5,51.6 .5-51.3 .5,53.3 .5-40.7 .5,57.2 .5-48.2 .5,36.8 .5-37.3 .5,56.7 .5-39.4 .5,43.2 .5-44.5 .5,35.2 .5-31.2 .5,43.5 .5-37.6 .5,47 .5-56.6 .5,31.9 .5-28.1 .5,59.1 .5-69.3 .5,48.1 .5-40.1 .5,23 .5-26.6 .5,18.7 .5-15.1" stroke="#e377c2" stroke-width="1.05"/><path d="M618.0,237.0 757.0,227.0" stroke="#e377c2"/><path d="M602,242l.5,21.2 .5-15.5 .5,15.1 .5-22 .5,26.3 .5-22.2 .5,14.3 .5-24.5 .5,28.7 .5-35.5 .5,36.5 .5-27.1 .5,27.6 .5-34.5 .5,37.4 .5-32.9 .5,22.9 .5-30.6 .5,25.2 .5-35.4 .5,40.9 .5-30.3 .5,29.8 .5-26.8 .5,29.2 .5-27.2 .5,28.1 .5-31.4 .5,21.6 .5-32.4 .5,41.4 .5-32 .5,29.5 .5-35.6 .5,19 .5-19.6 .5,32.5 .5-27.5 .5,21.4 .5-24.4 .5,30.3 .5-29.7 .5,26.6 .5-25.7 .5,30.7 .5-18.6 .5,23.2 .5-22.7 .5,20.1 .5-14.7" stroke="#1f77b4" stroke-width="1.05"/><path d="M616,243.1l.5,16.9 .5-49.8 .5,41.6 .5-28.5 .5,33.8 .5-19.8 .5,18.9" stroke="#8c564b" stroke-width="1.05"/><path d="M625,243.8l.5,10.4 .5-27.2 .5,27.3 .5-21.2 .5,36 .5-25.5" stroke="#8c564b" stroke-width="1.05"/><path d="M637,262.7l.5,6.9 .5-5 .5,10.4 .5-10 .5,5.1 .5-6.9" stroke="#8c564b" stroke-width="1.05"/><path d="M609,246.6l.5,9.7 .5-12.5 .5,13.9 .5-12.5 .5,10.9 .5-36.1 .5,29.9 .5-15.7 .5,26.9 .5-27.1 .5,18.6 .5-11.8 .5,23.8 .5-32.3 .5,15.3 .5-17.5 .5,20.5 .5-19.1 .5,25.4 .5-22.1 .5,25 .5-16.7 .5,16.5 .5-13.9 .5,8.5 .5-8.9 .5,15.1 .5-17.4 .5,11.3 .5-16.1 .5,12.5 .5-15.2 .5,24.3 .5-20 .5,13.7 .5-18.2 .5,15.8 .5-7.4 .5,15.8 .5-33.4 .5,26.8 .5-30 .5,24 .5-22.5 .5,32.5 .5-30 .5,31 .5-16.8 .5,13.5 .5-13 .5,9.5 .5-19 .5,18.1 .5-18.1 .5,19 .5-21.4 .5,20.2 .5-16.4 .5,23.3 .5-22.5 .5,17.6 .5-14.5 .5,15.9 .5-14.6 .5,13.5 .5-22.9 .5,21.6 .5-16 .5,17.4 .5-39.3 .5,28.6 .5-21 .5,38.6 .5-8 .5,22.1 .5-33.1 .5,30.4 .5-25.5 .5,9.6 .5-29.4 .5,34.7 .5-34.5 .5,24.9 .5-21.8 .5,16.3 .5-24.8 .5,48.8 .5-36.2 .5,13.9 .5-51.8 .5,65.1 .5-27.9 .5,28.9 .5-18.5 .5,25.5 .5-30.9 .5,22.6 .5-24.4 .5,26.1 .5-33.2 .5,26.1 .5-22 .5,20.7 .5-16.8 .5,19.2 .5-24.9 .5,18.3 .5-34.3 .5,42.1 .5-27.3 .5,27.1 .5-36.2 .5,22.2 .5-55 .5,50.6 .5-33.2 .5,34.5 .5-36.3 .5,55.4 .5-30.1 .5,27.8 .5-46.1 .5,31.3 .5-15.9 .5,19.7 .5-23.2 .5,25.9 .5-20.3 .5,51.4 .5-50.6 .5,44.5 .5-35 .5,32.6 .5-15.6 .5,12.4 .5-17.9" stroke="#9467bd" stroke-width="1.05"/><path d="M655,245l.5,14.1 .5-19.4 .5,19.3 .5-22.6 .5,21.8 .5-25.9 .5,26.8 .5-26.4 .5,25.2 .5-29.6 .5,33.3 .5-24.3 .5,25.8 .5-29.8 .5,21.9 .5-28.2 .5,34.3 .5-31.5 .5,27.7 .5-32.7 .5,28 .5-21.5 .5,27.9 .5-23 .5,28.9 .5-30 .5,28 .5-27.7 .5,24.3 .5-27.6 .5,29.1 .5-27.9 .5,26.4 .5-26.5 .5,29.3 .5-21.4 .5,23.3 .5-14.3" stroke="#2ca02c" stroke-width="1.05"/><path d="M664,246.7l.5,21.2 .5-25.1 .5,48.1 .5-31 .5,43.9 .5-44.8 .5,33.7 .5-31.5 .5,13.3 .5-29 .5,12.9 .5-21.1 .5,19.3 .5-17.2 .5,24.9 .5-30.1 .5,21.3 .5-19.9 .5,22.1 .5-48.1 .5,40 .5-49.6 .5,39.4 .5-31.3 .5,41.6 .5-31.6 .5,38.9 .5-38.3 .5,42.4 .5-44.6 .5,30.7 .5-58.2 .5,62.3 .5-42.2 .5,45.2 .5-30.6 .5,44 .5-64.1 .5,37.2 .5-45.9 .5,49.8 .5-61.7 .5,71.1 .5-74.1 .5,78.6 .5-54.1 .5,62.2 .5-47.3 .5,34.4 .5-48.8 .5,39.2 .5-18.6 .5,30.1 .5-24.9 .5,23.6 .5-26.4 .5,22.3 .5-20.1 .5,16.9 .5-17.1 .5,27.9 .5-20.4 .5,21.3 .5-21.3 .5,23.7 .5-17.2 .5,24 .5-26.2 .5,13.5 .5-12.9 .5,10.9 .5-8.3" stroke="#d62728" stroke-width="1.05"/><path d="M664,257.5l.5,14.5 .5-16.8 .5,19.8 .5-22.5 .5,41.7 .5-23.3 .5,35.1 .5-44 .5,40.7 .5-37.1 .5,38.8 .5-46.2 .5,56.8 .5-54.9 .5,38.9 .5-33.1 .5,30.9 .5-32.2 .5,18.1 .5-31.4 .5,24.2 .5-19.9 .5,14.1 .5-15.6 .5,15.3 .5-14.3 .5,16 .5-10.6 .5,12.1 .5-16 .5,9.7 .5-11.5 .5,13.7 .5-12.5 .5,12.8 .5-12.5 .5,9 .5-12.9 .5,12.3 .5-11.9 .5,16 .5-16.9 .5,19.4 .5-20.7 .5,21.6 .5-13.9 .5,25.2 .5-24.8 .5,12.9 .5-13.7 .5,11.3 .5-14.2 .5,7.7 .5-7.6 .5,8.5 .5-10.2" stroke="#8c564b" stroke-width="1.05"/><path d="M697,264.1l.5,7.3 .5-7.2 .5,11.8 .5-13.2 .5,12.5 .5-10.9 .5,10.4 .5-13.9 .5,13.5 .5-12.5 .5,13.1 .5-11.9 .5,7 .5-8.2" stroke="#1f77b4" stroke-width="1.05"/><path d="M507,250.8l.7,2 .7-53.8 .7,44 .7-23.5 .7,47.6 .7-25.3 .7,40.6 .7-45.4 .7,34.9 .7-61.9 .7,58.4 .7-26.2 .7,22.2 .7-13.9 .7,22.1 .7-46.4 .7,64.3 .7-56.9 .7,53.3 .7-54.6 .7,42.9 .7-32.8 .7,31.4 .7-31.2 .7,9.2 .7-17.3 .7,33.2 .7-44.6 .7,35.9 .7-32.8 .7,21.9 .7-42.1 .7,61.6 .7-45.2 .7,37.3 .7-22.8 .7,42.3 .7-55.6 .7,36.5 .7-45.7 .7,56.2 .7-22.8 .7,30 .7-80.8 .7,63.7 .7-39.1 .7,30.4 .7-21.3 .7,19.5 .7-19.3 .7,14.9 .7-27.4 .7,26.3 .7-37.1 .7,38.9 .7-25.5 .7,39.8 .7-25.1 .7,29.9 .7-37 .7,28.7 .7-19.3 .7,20.1 .7-20.6 .7,26.1 .7-22.8 .7,24.7 .7-35.8 .7,29.8 .7-36.5 .7,32.6 .7-55.9 .7,43.5 .7-17.9 .7,26.5 .7-20.2 .7,16.9 .7-20.8 .7,12.9 .7-20.1 .7,22.3 .7-32.9 .7,40.1 .7-24.7 .7,20.2 .7-36.7 .7,50.7 .7-37.4 .7,43.4 .7-41.2 .7,26.5 .7-37.1 .7,41.1 .7-43.9 .7,34.1 .7-62 .7,89.9 .7-46.1 .7,43 .7-65.3 .7,65.9 .7-67.1 .7,42.9 .7-24.2 .7,17.4 .7-39.6 .7,47.2 .7-34 .7,47.3 .7-24.6" stroke="#ff7f0e" stroke-width="1.1"/><path d="M584,225.9l.65,28.4 .65-27.6 .65,39.2 .65-31.6 .65,19.9 .65-18.3 .65,17.5 .65-16.8 .65,16.6 .65-19.8 .65,14.5 .65-18 .65,24.8 .65-20.1 .65,25 .65-26 .65,18.8 .65-12.5 .65,23.9 .65-26.8 .65,18.7 .65-15.4 .65,15.1 .65-14 .65,15.9 .65-17.2 .65,28 .65-32 .65,24.2 .65-17.6 .65,21.8 .65-20 .65,18.2 .65-22.3 .65,20.3 .65-18.8 .65,13.7 .65-16.1 .65,18.1 .65-20.1 .65,20.8 .65-19.7 .65,17.9 .65-23.9 .65,21.9 .65-19.3 .65,26.3 .65-32.3 .65,52 .65-35.6 .65,56.8 .65-59.6 .65,14.1 .65-19.9 .65,25.9 .65-32.7 .65,30.4 .65-12.7 .65,20.6 .65-18.4 .65,28.9 .65-41 .65,45 .65-39.6 .65,16.9 .65-19 .65,21.5 .65-25.1 .65,34.6 .65-21.7 .65,19.8 .65-38.1 .65,48.9 .65-39 .65,60.2 .65-59.6 .65,18.1 .65-19 .65,43.6 .65-49.4 .65,47.7 .65-39 .65,61.2 .65-71.7 .65,21.9 .65-50.2 .65,54.5 .65-22.9 .65,20.6 .65-26.5 .65,23.4 .65-31 .65,40.2 .65-40.5 .65,36.2 .65-28 .65,21.9 .65-32.3 .65,31.1 .65-27 .65,24.5 .65-21.6 .65,26.2 .65-26.1 .65,26.5 .65-30 .65,40.4 .65-48.6 .65,41.9 .65-41.2 .65,41.4 .65-25.5 .65,33.3 .65-31 .65,24.6 .65-26.8 .65,21.7 .65-31.8 .65,34.5 .65-27.6 .65,24 .65-17.1 .65,27.6 .65-34.5 .65,36.5 .65-17.9 .65,14.1 .65-26.1 .65,29.5 .65-33 .65,32.6 .65-19.7 .65,25.2 .65-35.1 .65,39.3 .65-28.5 .65,32.4 .65-38.4 .65,26.4 .65-29.3 .65,32.9 .65-39.9 .65,42.7 .65-28.9 .65,26.3 .65-49.2 .65,93.6 .65-71.5" stroke="#ff7f0e" stroke-width="1.1"/><path d="M680,231.6l.5,49.1 .5-63.9 .5,58.8 .5-60.3 .5,49.4 .5-41.5 .5,55 .5-53.4 .5,41.1 .5-54.3 .5,57.2 .5-54.3 .5,56.4 .5-69 .5,69.4 .5-63.3 .5,50.2 .5-49.6 .5,52 .5-52.7 .5,59 .5-60.9 .5,55.5 .5-61.9 .5,66 .5-73.1 .5,70.1 .5-65.3 .5,57.8 .5-51.6 .5,55 .5-46.8 .5,54.5 .5-54 .5,58.5 .5-68.4 .5,54.5 .5-53.5 .5,52.2 .5-65.1 .5,77.1 .5-68 .5,67.9 .5-69.4 .5,63.2 .5-93.2 .5,97.1 .5-76.2 .5,77.4 .5-71.3 .5,59.5 .5-60 .5,55.7 .5-51.8 .5,52.1 .5-59.5 .5,75.9 .5-89.9 .5,89.5 .5-77.7 .5,63.3 .5-46.5 .5,57.5 .5-41.5 .5,50 .5-44.7 .5,36.7 .5-19.4 .5,15" stroke="#ff7f0e" stroke-width="1.05"/><path d="M700,251.9l.5,19.3 .5-20.4 .5,39.6 .5-19.1 .5,45 .5-62.3 .5,59.8 .5-76 .5,79.4 .5-93.6 .5,121.4 .5-139.4 .5,116.9 .5-83.4 .5,74.8 .5-57.7 .5,38.4 .5-51.7 .5,40.8 .5-41.1 .5,28.9 .5-36.1 .5,33.2 .5-26.7 .5,23.3 .5-36 .5,30 .5-26.2 .5,30.6 .5-29.9 .5,20.5 .5-40.3 .5,44.4 .5-54.3 .5,39.1 .5-55 .5,62.9 .5-56.9 .5,77.4 .5-57.6 .5,51.8 .5-43.9 .5,57.2 .5-52.8 .5,28 .5-26.7 .5,30 .5-19.1 .5,28.9 .5-37.9 .5,30.7 .5-34.3 .5,26.6 .5-30.1 .5,44.2 .5-36.3 .5,26.9 .5-23.4 .5,24.1 .5-31.3 .5,25.3 .5-22.2 .5,27.4 .5-19 .5,17.4 .5-21.4 .5,23.7 .5-18.7 .5,18.4 .5-15.8 .5,15.7 .5-15.8 .5,21.9 .5-21.6 .5,35.3 .5-35.5 .5,34.9 .5-30.1 .5,34.1 .5-25.9 .5,35.4 .5-43.8 .5,19.3 .5-18.2" stroke="#bcbd22" stroke-width="1.05"/><path d="M705.45,249.3 L705.65,137.0 L706.35,137.0 L706.55,249.3" fill="#bcbd22" stroke="#bcbd22" stroke-width="0.7"/><path d="M702.6,275 L703.4,330 L704.6,345 L705.6,345 L706.8,330 L707.6,275Z" fill="#bcbd22" stroke="#bcbd22" stroke-width="0.5"/><path d="M712,247.7l.5,20.2 .5-67.9 .5,71.5 .5-73.1 .5,64.6 .5-30.9 .5,59.4 .5-57.2 .5,59.7 .5-51.8 .5,21" stroke="#17becf" stroke-width="1.05"/><path d="M712,249.2l.5,9 .5-13.8 .5,18.5 .5-20.5 .5,24.3 .5-15.9 .5,21.4 .5-33 .5,34.5 .5-50.5 .5,41.1 .5-41.6 .5,40 .5-40.6 .5,32.6 .5-32.7 .5,38.2 .5-27.2 .5,35.3 .5-32.3 .5,31.9 .5-29 .5,36.1 .5-31.8 .5,38.3 .5-25.1 .5,35.7 .5-52.9 .5,51.9 .5-43.4 .5,35.4 .5-48.2 .5,75.9 .5-55.3 .5,44.8 .5-60.3 .5,40 .5-43.7 .5,35.1 .5-36.8 .5,36.4 .5-32.5 .5,42.3 .5-37.2 .5,44.6 .5-75.2 .5,76.9 .5-49.1 .5,40.8 .5-56.2 .5,62.8 .5-52 .5,52.4 .5-50.1 .5,36.9 .5-48.1 .5,39.6 .5-44.4 .5,71.5 .5-63.1 .5,63.8 .5-51 .5,42.1 .5-45.9 .5,55.2 .5-80.1 .5,60.1 .5-38.7 .5,46 .5-50.3 .5,57.6 .5-61.6 .5,39.7 .5-37.3 .5,60.1 .5-47.2 .5,50.1 .5-43.1 .5,69.6 .5-71 .5,39.4 .5-36.8 .5,35.4 .5-45.8 .5,45.5 .5-26.8 .5,21.3 .5-28.3 .5,32.5 .5-27.2 .5,31.3 .5-29.2 .5,18.3 .5-22.8 .5,16.8 .5-15.6" stroke="#1f77b4" stroke-width="1.05"/><path d="M745.5,243.1l.5,7.2 .5-40.3 .5,50.9 .5-32.6 .5,26.1 .5-14 .5,17.2 .5-14 .5,11.8 .5-45.4 .5,38.2 .5-22.3 .5,28.6 .5-7.2" stroke="#17becf" stroke-width="1.05"/><path d="M717,246.1l.5,8.9 .5-10.8 .5,16.6 .5-14.2 .5,13.2 .5-15.7 .5,19.9 .5-21.2 .5,15.9 .5-15.8 .5,16 .5-15.5 .5,9.3 .5-4.4" stroke="#2ca02c" stroke-width="1.05"/><path d="M733.5,259.4l.5,6 .5-5.6 .5,11.9 .5-10.6 .5,12.9 .5-15.9 .5,8.2 .5-7.5" stroke="#2ca02c" stroke-width="1.05"/><path d="M749.5,250.2l.5,15.6 .5-15.7 .5,18.2 .5-21.7 .5,23.8 .5-29.6 .5,31.1 .5-28.7 .5,29.7 .5-25.9 .5,30 .5-24.2 .5,14.5 .5-17.9 .5,12.3" stroke="#2ca02c" stroke-width="1.05"/><path d="M758,243.9l.5,10.9 .5-17.2 .5,15.2 .5-17.4 .5,16.8 .5-22.9 .5,23.9 .5-23.1 .5,15.3 .5-20.1 .5,19.1 .5-18.6 .5,20 .5-19.4 .5,21.3 .5-14.4 .5,13.1 .5-10.1 .5,16.4 .5-9.2" stroke="#2ca02c" stroke-width="1.05"/><path d="M723,241.8l.5,13.5 .5-17 .5,19.4 .5-26.2 .5,21 .5-27.8 .5,21.9 .5-22.8 .5,23.5 .5-28.4 .5,29.8 .5-25.3 .5,29.9 .5-22.2 .5,26.4 .5-24.6 .5,23.2 .5-20.5 .5,18.9 .5-12.8" stroke="#bcbd22" stroke-width="1.05"/><path d="M736.5,261.6l.5,11.2 .5-7.3 .5,16.3 .5-12.3 .5,13.2 .5-17.7 .5,17.1 .5-19.2 .5,17.4 .5-16.2 .5,2.3" stroke="#bcbd22" stroke-width="1.05"/><path d="M768,244.2l.5,12.4 .5-14.1 .5,13.3 .5-20.1 .5,17.8 .5-16.5 .5,22.7 .5-18.4 .5,17.6 .5-26.8 .5,22.1 .5-19.5 .5,20.5 .5-22.3 .5,20.5 .5-22.3 .5,24.9 .5-20.7 .5,24.5 .5-25.4 .5,23.2 .5-19.1 .5,16.8 .5-9.2" stroke="#bcbd22" stroke-width="1.05"/><path d="M714,244.1l.5,10.2 .5-21 .5,16 .5-19.8 .5,24.2 .5-25.3 .5,26.6 .5-25.2 .5,27.4 .5-26.2 .5,26.6 .5-23.6 .5,28.6 .5-35.3 .5,28.3 .5-31.9 .5,30.6 .5-28.8 .5,30.7 .5-28.8 .5,28.7 .5-26 .5,29.4 .5-27.1 .5,31.4 .5-27.7 .5,27.5 .5-28.3 .5,21.5 .5-33 .5,26.3 .5-25.2 .5,30.7 .5-21.9 .5,32.3 .5-33.1 .5,22 .5-28.9 .5,32.2 .5-31.1 .5,33.2 .5-33.6 .5,29.1 .5-28.5 .5,31.1 .5-31.5 .5,39.4 .5-25.4 .5,27 .5-28.1 .5,26 .5-32.8 .5,28.1 .5-28.3 .5,29.1 .5-32.9 .5,33.1 .5-29 .5,32.3 .5-30.7 .5,30.2 .5-33.9 .5,29.5 .5-24.3 .5,29.7 .5-26.1 .5,26.2 .5-30 .5,24 .5-34.3 .5,26.1 .5-24.3 .5,31.1 .5-25.2 .5,34.9 .5-37.4 .5,31.2 .5-26.6 .5,26.5 .5-27.2 .5,33 .5-30.7 .5,31.2 .5-26.7 .5,25.3 .5-31.9 .5,28.3 .5-31.7 .5,32.4 .5-31.3 .5,32 .5-25.5 .5,28.1 .5-27.9 .5,27.5 .5-19.4 .5,19 .5-23.8 .5,23.5 .5-31.2 .5,25.1 .5-28.9 .5,28.9 .5-24.7 .5,28.4 .5-25.8 .5,20.1 .5-21.9 .5,28.1 .5-23.9 .5,19.6 .5-26.1 .5,29.5 .5-24.5 .5,24.5 .5-28.6 .5,20.3 .5-22.7 .5,27.2 .5-27.5 .5,23.5 .5-24.2 .5,22.4 .5-25.1 .5,33.8 .5-33.5 .5,28.8 .5-32.1 .5,35.8 .5-31.2 .5,33.1 .5-33.1 .5,33.2 .5-34.5 .5,25.9 .5-35.3 .5,40.6 .5-45.2 .5,60.4 .5-49.8 .5,57.7 .5-65.5 .5,63.4 .5-37.5 .5,53.1 .5-43.7 .5,45.9 .5-49.5 .5,55.4 .5-59.2 .5,59.3 .5-64 .5,53 .5-54.5 .5,46.8 .5-45.6 .5,41.7 .5-51 .5,61.1 .5-56 .5,59.7 .5-50.2 .5,36.5 .5-51.4 .5,68.9 .5-63.8 .5,43.2 .5-38.8 .5,42.8 .5-55.7 .5,52.3 .5-65.2 .5,52.2 .5-61.1 .5,50.8 .5-55.9 .5,61.8 .5-50.9 .5,61.6 .5-74.3 .5,60.4 .5-45.2 .5,40.6 .5-40.3 .5,43.1 .5-16.8" stroke="#8c564b" stroke-width="1.05"/><path d="M714.0,238.6 785.0,237.0" stroke="#1f77b4"/><path d="M780,255.5l.5,10.4 .5-15.6 .5,17.9 .5-16.1 .5,23.9 .5-12.1 .5,20.3 .5-24.2 .5,32.4 .5-45.8 .5,52.1 .5-33.8 .5,51.1 .5-45.1 .5,26 .5-49.3 .5,34.8 .5-29.8 .5,43.6 .5-34.1 .5,32.5 .5-40.1 .5,25 .5-36.1 .5,36.4 .5-37.1 .5,45.5 .5-42.7 .5,63.3 .5-49.6 .5,41.1 .5-61.9 .5,72.6 .5-87.4 .5,63.3 .5-62.2 .5,37.6 .5-77.3 .5,58.4 .5-49.5 .5,55 .5-42.7 .5,30.5 .5-47.1 .5,59.1 .5-38 .5,44.8 .5-69.1 .5,58.6 .5-34.2 .5,34.4 .5-46.7 .5,51.2 .5-43.2 .5,45.5 .5-20.5 .5,40.5 .5-34.2 .5,29.2 .5-37.4 .5,40 .5-30 .5,19.4 .5-20.3 .5,23.1 .5-8.9" stroke="#2ca02c" stroke-width="1.05"/><path d="M754,248.6l.5,16.4 .5-33.4 .5,35.1 .5-48.1 .5,42.4 .5-59 .5,69.5 .5-66.1 .5,81.1 .5-57.4 .5,62.6 .5-45.1 .5,60 .5-44.7 .5,47.9 .5-42.4 .5,38.5 .5-49.7 .5,42.5 .5-47.5 .5,48.4 .5-47.7 .5,53.9 .5-45.7 .5,37.5 .5-37 .5,36.3 .5-33.6 .5,29.1 .5-35.9 .5,34.1 .5-35.2 .5,32.5 .5-30.6 .5,31.4 .5-28.6 .5,24.7 .5-28.3 .5,31.1 .5-31.5 .5,31.8 .5-28 .5,28.5 .5-31.6 .5,23.2 .5-25.4 .5,28.1 .5-30.5 .5,34.6 .5-34.8 .5,30.6 .5-32.9 .5,31.1 .5-28.2 .5,27.1 .5-29.1 .5,28 .5-25.1 .5,28.4 .5-27.9 .5,27.8 .5-41.3 .5,33.1 .5-32.9 .5,37.3 .5-37.9 .5,34.8 .5-64.9 .5,63.3 .5-46.1 .5,39 .5-22.8 .5,28.6 .5-26.9 .5,26.6 .5-31.7 .5,28.5 .5-24.9 .5,19.5 .5-19.3 .5,20.2 .5-19.5 .5,21.5 .5-20.6 .5,19.2 .5-22 .5,14.5 .5-15 .5,17.4 .5-17.9 .5,25.3 .5-22.4 .5,22.8 .5-22.4 .5,21.7 .5-20.5 .5,20.8 .5-23.2 .5,20.1 .5-22.9 .5,24.3 .5-23 .5,23.8 .5-21.6 .5,20.7 .5-32 .5,29 .5-36.3 .5,34.3 .5-39.3 .5,38.4 .5-35.7 .5,34.4 .5-42.6 .5,36 .5-38.2 .5,41.7 .5-40 .5,41.2 .5-30.2 .5,33.7 .5-35.6 .5,35.9 .5-28.2 .5,34.8 .5-36 .5,28.2 .5-26.8 .5,23.9 .5-25.3 .5,26 .5-25.2 .5,23.7 .5-23.9 .5,25 .5-23.8 .5,31.3 .5-31.8 .5,25.4 .5-24.6 .5,26.3 .5-26.4 .5,25.2 .5-24.4 .5,31.1 .5-24.5 .5,23.7 .5-28.6 .5,25.8 .5-22.3 .5,30.3 .5-26.3 .5,18.7 .5-27.1 .5,27.7 .5-25.7 .5,26.7 .5-27.2 .5,32.7 .5-30.1 .5,29.8 .5-34.1 .5,25.8 .5-28.1 .5,30.5 .5-28.4 .5,28.6 .5-31.6 .5,34 .5-33 .5,35.3 .5-28.1 .5,32.5 .5-34.3 .5,34.5 .5-34 .5,31.3 .5-36.3 .5,31.2 .5-39.9 .5,34.4 .5-35.1 .5,35.6 .5-35.6 .5,41.2 .5-34.1 .5,42.4 .5-38.7 .5,38.9 .5-37.5 .5,34.4 .5-36.8 .5,37.1 .5-37.6 .5,40.9 .5-32.3 .5,32.5 .5-33.3 .5,33.5 .5-35.4 .5,35.5 .5-43.4 .5,36.8 .5-46.9 .5,37.1 .5-32.4 .5,38.8 .5-41 .5,32 .5-30.7 .5,41 .5-39.7 .5,34.4 .5-33.6 .5,40.5 .5-33.4 .5,42 .5-41.3 .5,42.5 .5-41 .5,38.5 .5-33 .5,24.5" stroke="#e377c2" stroke-width="1.05"/><path d="M690.0,260.7 810.0,267.6" stroke="#17becf"/><path d="M808,240.9l.5,20.5 .5-22.7 .5,22.5 .5-23.3 .5,28 .5-29.1 .5,44.7 .5-42.7 .5,42.6 .5-60.1 .5,35.9 .5-47 .5,65.7 .5-53.2 .5,39.8 .5-56.1 .5,51.2 .5-37.6 .5,45.7 .5-60.9 .5,43.1 .5-43.9 .5,49.4 .5-61.4 .5,63.2 .5-59.4 .5,62.7 .5-64.6 .5,59.4 .5-45.1 .5,42.7 .5-43.4 .5,47.7 .5-37.2 .5,39.5 .5-33.3 .5,30.4 .5-26.9 .5,27.8 .5-25 .5,29.3 .5-18.5 .5,19.9 .5-16.5" stroke="#17becf" stroke-width="1.05"/><path d="M826,253.2l.5,12.9 .5-12.4 .5,16.3 .5-21.7 .5,18.8 .5-23.1 .5,31.1 .5-31.8 .5,31.1 .5-31 .5,33.8 .5-17.8 .5,28 .5-42.2 .5,35.6 .5-37.7 .5,43.7 .5-45.1 .5,53 .5-56 .5,54.8 .5-56.6 .5,54.3 .5-55.6 .5,41.7 .5-42.1 .5,55.5 .5-59.6 .5,44.9 .5-58.1 .5,52.3 .5-52.2 .5,53.2 .5-48.7 .5,66 .5-50 .5,56.9 .5-61.8 .5,57.3 .5-47.9 .5,51 .5-67.5 .5,69.1 .5-60 .5,47 .5-38 .5,48.9 .5-49.3 .5,26.6 .5-40.3 .5,30.8 .5-38.1 .5,42.2 .5-41.4 .5,36.8 .5-33.2 .5,56.6 .5-46.8 .5,50.4 .5-57.4 .5,39.9 .5-38.4 .5,50.3 .5-35.2 .5,43.7 .5-47.1 .5,41.8 .5-43.4 .5,38.5 .5-37.3 .5,30.2 .5-31 .5,28.5 .5-20.8 .5,23.6 .5-28.5 .5,19.7 .5-18.9" stroke="#d62728" stroke-width="1.05"/><path d="M857,242l.5,18 .5-16.8 .5,24.5 .5-29.4 .5,32.5 .5-41.8 .5,34.5 .5-31.4 .5,44.4 .5-46.9 .5,49.1 .5-54.3 .5,40.6 .5-41.3 .5,54.3 .5-41.9 .5,23.4" stroke="#ff7f0e" stroke-width="1.05"/><path d="M784.6,251.2l.5,15.4 .5-28.8 .5,32.3 .5-64.1 .5,40.3 .5-35.7 .5,57 .5-48.8 .5,51.6 .5-42.2 .5,38.1 .5-43.7 .5,44.9 .5-61.3 .5,50 .5-54 .5,71.9 .5-78.1 .5,63.4 .5-61.3 .5,58.7 .5-33.3 .5,41.2 .5-41.2 .5,45.6 .5-40.9 .5,42.2 .5-29.4 .5,32.4 .5-41.3 .5,27.2 .5-32.6 .5,32.9 .5-35.6 .5,38.1 .5-37.5 .5,43.3 .5-45.2 .5,37.4 .5-33.3 .5,47.5 .5-39.3 .5,34.3 .5-42.2 .5,35 .5-26.6 .5,29.6 .5-36.5 .5,38.9 .5-32.2 .5,28.4 .5-25.1 .5,27.3 .5-28 .5,31.2 .5-26.5 .5,29.3 .5-25.1 .5,23.9 .5-24.5 .5,28.3 .5-29 .5,29.3 .5-27.4 .5,27.5 .5-27.8 .5,25.5 .5-24.5 .5,25.8 .5-27.7 .5,23.2 .5-31.3 .5,26.3 .5-18.5 .5,20.9 .5-30.4 .5,28.1 .5-25.4 .5,29.3 .5-30.9 .5,22.3 .5-32.1 .5,37.2 .5-28.8 .5,28.3 .5-21.9 .5,24.2 .5-36.9 .5,26.1 .5-32.7 .5,38 .5-32.3 .5,34.8 .5-41.7 .5,36.6 .5-39.4 .5,36.5 .5-32.6 .5,29.5 .5-29.2 .5,34.6 .5-25.8 .5,39.6 .5-38 .5,30.7 .5-39.9 .5,34.7 .5-31.7 .5,31.1 .5-27.5 .5,29.1 .5-28.8 .5,32.1 .5-38.1 .5,27.7 .5-16.6 .5,23.7 .5-23 .5,29.4 .5-32.2 .5,23.5 .5-20 .5,28.3 .5-27.8 .5,27.4 .5-34 .5,19.4 .5-21.6 .5,24.8 .5-20.6 .5,29 .5-27.1 .5,26.3 .5-23.9 .5,25.6 .5-24 .5,21 .5-18 .5,20.8 .5-20.5 .5,24.1 .5-24.4 .5,23.5 .5-26.3 .5,20.3 .5-25.5 .5,20 .5-28.3 .5,23.7 .5-26 .5,32.3 .5-23.1 .5,27.2 .5-29.6 .5,20.5 .5-27.5 .5,24.2 .5-32.2 .5,45.5 .5-34.2 .5,29.7 .5-13 .5,16.1" stroke="#1f77b4" stroke-width="1.05"/><path d="M214,253.9l.5,13.7 .5-20.6 .5,20 .5-25.3 .5,37.4 .5-25.4 .5,51.8 .5-55.5 .5,50.5 .5-68.6 .5,61.5 .5-38.6 .5,62.4 .5-64.7 .5,64.3 .5-103.7 .5,80.5 .5-53.7 .5,85.3 .5-128.4 .5,109 .5-188.2 .5,207.4 .5-122.1 .5,93 .5-90.9 .5,89.4 .5-66.5 .5,82.2 .5-65.7 .5,62.1 .5-54.7 .5,48.4 .5-67.4 .5,42.1 .5-51.2 .5,56.9 .5-62.3" stroke="#d62728" stroke-width="1.05"/><path d="M223.64,237.3 L223.95,80.0 L224.65,80.0 L224.96,237.3" fill="#d62728" stroke="#d62728" stroke-width="0.7"/><path d="M224.12,235.7 L224.65,66.7 L225.35,66.7 L225.88,235.7" fill="#d62728" stroke="#d62728" stroke-width="0.7"/><path d="M224.32,275.2 L225.35,327.0 L226.05,327.0 L227.07,275.2" fill="#d62728" stroke="#d62728" stroke-width="0.7"/><path d="M218.68,276.8 L219.15,321.0 L219.85,321.0 L220.32,276.8" fill="#d62728" stroke="#d62728" stroke-width="0.7"/><path d="M232,207l.75,44.1 .75-50.5 .75,45.2 .75-45.8 .75,63.9 .75-40.1 .75,37.7 .75-43.5 .75,35.6 .75-44.5 .75,46.1 .75-18 .75,21.6 .75-37 .75,50.3 .75-41.3 .75,28.9 .75-43.1 .75,51.8 .75-25 .75,46.6 .75-71.6 .75,54.2 .75-35.7 .75,30.8 .75-24.3 .75,21 .75-46.5 .75,10.7 .75-26.9 .75,34.9 .75-26.6 .75,54.3 .75-31.4 .75,40 .75-50.2 .75,39.3 .75-14.2 .75,25.1 .75-23.3 .75,20.8 .75-39.8 .75,41.1 .75-38.7 .75,37.2 .75-44.7 .75,22.2 .75-15.3 .75,41.1 .75-47.2 .75,24.3 .75-37.5 .75,42.9 .75-39.5 .75,20.5 .75-13.4 .75,20.1 .75-31.7 .75,46.4 .75-14.9 .75,27.1 .75-36.4 .75,22.8 .75-51.1 .75,35 .75-18 .75,27.1 .75-40.9 .75,48.4 .75-32.7 .75,43.7 .75-34.9 .75,26 .75-15.7 .75,24.9 .75-47 .75,28.3 .75-24 .75,32.2 .75-29.2 .75,16.7 .75-28.1 .75,32 .75-19.7 .75,30.2" stroke="#d62728" stroke-width="1.1"/><path d="M234.56,238.6 L234.65,185.0 L235.35,185.0 L235.44,238.6" fill="#d62728" stroke="#d62728" stroke-width="0.7"/><path d="M288,230.8l.5,24.8 .5-28.2 .5,23.6 .5-24 .5,26.1 .5-25.7 .5,27.9 .5-25.9 .5,30.1 .5-32 .5,27.3 .5-27.7 .5,31.7 .5-33.7 .5,35.1 .5-31.7 .5,30 .5-30.5 .5,31.2 .5-32.8 .5,33 .5-31.4 .5,33.2 .5-30.3" stroke="#d62728" stroke-width="1.05"/><path d="M300,225.1l.5,31.3 .5-35.4 .5,30.5 .5-24.9 .5,29.1 .5-31.7 .5,34.9 .5-32.5 .5,30 .5-24.3 .5,31.6 .5-29.9 .5,28.8 .5-27.7 .5,27.3 .5-27.3 .5,31.2 .5-32.1 .5,24.7 .5-23.3 .5,26.9 .5-24.3 .5,27.7 .5-27.5 .5,28.4 .5-28.4 .5,21.1 .5-26.6 .5,26.1 .5-23 .5,21.2 .5-25 .5,22 .5-23.7 .5,26.8 .5-26.8 .5,24.2 .5-21.4 .5,24.7 .5-27.5 .5,24.5 .5-23 .5,25.3 .5-22.3 .5,28.6 .5-27.3 .5,23.7 .5-22.3 .5,25.7 .5-25.3 .5,30.9 .5-28.5 .5,28 .5-24 .5,22.8 .5-25.3 .5,27.7 .5-29.4 .5,22.6 .5-27.2 .5,30.6 .5-27.8 .5,24.8 .5-26.6 .5,26.6 .5-28.3 .5,25.4 .5-26.2 .5,27.7 .5-24.7 .5,21.8 .5-21.2 .5,22.1 .5-22.3 .5,24.8 .5-25.5 .5,21.5 .5-23.5 .5,24.9 .5-24.2 .5,26.5 .5-24.2 .5,21.6 .5-23.6 .5,30 .5-25.6 .5,30.9 .5-26.4 .5,25.1 .5-27.3 .5,26.8 .5-25.3 .5,23.3 .5-27.1 .5,26 .5-23.5 .5,21.7 .5-23.3 .5,22.7 .5-25.4 .5,22.2 .5-26.2 .5,28.5 .5-27.3 .5,27.9 .5-26.9 .5,29.2 .5-26.9 .5,24.4 .5-22.7 .5,23.5 .5-22.9 .5,22.1 .5-22.6 .5,24.3 .5-26.3 .5,25.1 .5-26.9 .5,24.3 .5-20.4 .5,22.8 .5-20.9 .5,24.1 .5-24.1 .5,21.3 .5-21.9 .5,23.9 .5-23.9 .5,24.5 .5-24 .5,22 .5-26 .5,25.3 .5-22.9 .5,22.4 .5-21.7 .5,25.5 .5-28 .5,23.3 .5-23.6 .5,26.1 .5-25 .5,25.1 .5-30 .5,21.9 .5-20.5 .5,28.1 .5-25.9 .5,26.4 .5-24 .5,24.7 .5-25.8 .5,24.3 .5-24.9 .5,26.7 .5-28 .5,26 .5-23.3 .5,28.6 .5-26.2 .5,24.2 .5-25.7 .5,22.4 .5-25.4 .5,23.2 .5-24 .5,24.9 .5-22.2 .5,22.7 .5-27.7 .5,28.1 .5-27.5 .5,27.1 .5-23.7 .5,23.6 .5-22.4 .5,25.3 .5-26.1 .5,22.2 .5-21.9 .5,24.1 .5-24.3 .5,25.6 .5-23.2 .5,29.6 .5-25.6 .5,26.7 .5-30.7 .5,25.3 .5-27.9 .5,26.8 .5-27.9 .5,27 .5-29.9 .5,33.3 .5-35.5 .5,27.9 .5-34.2 .5,31.5 .5-30.2 .5,29.3 .5-26.4 .5,26.3 .5-28.4 .5,37.2 .5-38.3 .5,31.9 .5-33.1" stroke="#d62728" stroke-width="1.05"/><path d="M404,232.1l.5,25.4 .5-12.1 .5,25.8 .5-28.3 .5,27.4 .5-41 .5,23.5 .5-19.6 .5,24.9 .5-55.4 .5,62.2 .5-28.6 .5,22.2 .5-40.4 .5,15.5 .5-36.4 .5,49.1 .5-34.3 .5,37.5 .5-31.1 .5,49.5 .5-36.9 .5,40.2 .5-68.2 .5,77.3 .5-33.7 .5,29.4 .5-41.2 .5,32.4 .5-21.3 .5,28.8 .5-74.7 .5,61.4 .5-26.3 .5,35 .5-78.3 .5,88.7 .5-48.3 .5,53.9 .5-24 .5,59.9 .5-71 .5,37.3 .5-42.8 .5,29 .5-35.2 .5,33.3 .5-54.6 .5,52.6 .5-60.6 .5,101.3 .5-80.2 .5,33.6 .5-14.1" stroke="#d62728" stroke-width="1.05"/><path d="M408.56,231.0 L408.65,184.0 L409.35,184.0 L409.44,231.0" fill="#d62728" stroke="#d62728" stroke-width="0.7"/><path d="M421.56,245.3 L421.65,173.0 L422.35,173.0 L422.44,245.3" fill="#d62728" stroke="#d62728" stroke-width="0.7"/><path d="M428.65,231.2 L428.85,104.0 L429.55,104.0 L429.75,231.2" fill="#d62728" stroke="#d62728" stroke-width="0.7"/><path d="M428.85,270.1 L429.05,361.0 L429.75,361.0 L429.95,270.1" fill="#d62728" stroke="#d62728" stroke-width="0.7"/></g>
<rect x="125.5" y="60.5" width="775.0" height="385.0" fill="none" stroke="#000" stroke-width="1.111" stroke-linejoin="miter"/>
<g filter="url(#gray)"><g stroke="#000" stroke-width="1.111"><line x1="146.50" y1="445.5" x2="146.50" y2="450.36"/><line x1="233.50" y1="445.5" x2="233.50" y2="450.36"/><line x1="321.50" y1="445.5" x2="321.50" y2="450.36"/><line x1="408.50" y1="445.5" x2="408.50" y2="450.36"/><line x1="495.50" y1="445.5" x2="495.50" y2="450.36"/><line x1="583.50" y1="445.5" x2="583.50" y2="450.36"/><line x1="670.50" y1="445.5" x2="670.50" y2="450.36"/><line x1="758.50" y1="445.5" x2="758.50" y2="450.36"/><line x1="845.50" y1="445.5" x2="845.50" y2="450.36"/><line x1="120.64" y1="445.50" x2="125.5" y2="445.50"/><line x1="120.64" y1="397.50" x2="125.5" y2="397.50"/><line x1="120.64" y1="349.50" x2="125.5" y2="349.50"/><line x1="120.64" y1="301.50" x2="125.5" y2="301.50"/><line x1="120.64" y1="253.50" x2="125.5" y2="253.50"/><line x1="120.64" y1="204.50" x2="125.5" y2="204.50"/><line x1="120.64" y1="156.50" x2="125.5" y2="156.50"/><line x1="120.64" y1="108.50" x2="125.5" y2="108.50"/><line x1="120.64" y1="60.50" x2="125.5" y2="60.50"/></g><g font-size="13.889px" fill="#000"><text x="146.05" y="466.3" text-anchor="middle">230000</text><text x="233.41" y="466.3" text-anchor="middle">240000</text><text x="320.77" y="466.3" text-anchor="middle">250000</text><text x="408.13" y="466.3" text-anchor="middle">260000</text><text x="495.49" y="466.3" text-anchor="middle">270000</text><text x="582.85" y="466.3" text-anchor="middle">280000</text><text x="670.21" y="466.3" text-anchor="middle">290000</text><text x="757.57" y="466.3" text-anchor="middle">300000</text><text x="844.93" y="466.3" text-anchor="middle">310000</text><text x="115.6" y="451.15" text-anchor="end">−20</text><text x="115.6" y="403.02" text-anchor="end">−15</text><text x="115.6" y="354.90" text-anchor="end">−10</text><text x="115.6" y="306.77" text-anchor="end">−5</text><text x="115.6" y="258.65" text-anchor="end">0</text><text x="115.6" y="210.53" text-anchor="end">5</text><text x="115.6" y="162.40" text-anchor="end">10</text><text x="115.6" y="114.28" text-anchor="end">15</text><text x="115.6" y="66.15" text-anchor="end">20</text><text x="512.5" y="486.2" text-anchor="middle">Time (s)</text><text transform="translate(76.6,253.8) rotate(-90)" text-anchor="middle" letter-spacing="0.2">CNoDiff dB Hz</text></g><text x="512.5" y="51.67" text-anchor="middle" font-size="16.667px" fill="#000">240807_ch1/results/BX_all_0-EB81_all_0 GPS L2(CM+CL)</text>
<rect x="922.40" y="74.60" width="80.9" height="514.2" rx="2.78" ry="2.78" fill="#fff" fill-opacity="0.8" stroke="#ccc" stroke-width="1.389"/><g stroke-width="0.694" stroke-linecap="square"><line x1="927.96" y1="86.50" x2="955.73" y2="86.50" stroke="#1f77b4"/><line x1="927.96" y1="107.50" x2="955.73" y2="107.50" stroke="#ff7f0e"/><line x1="927.96" y1="127.50" x2="955.73" y2="127.50" stroke="#2ca02c"/><line x1="927.96" y1="148.50" x2="955.73" y2="148.50" stroke="#d62728"/><line x1="927.96" y1="169.50" x2="955.73" y2="169.50" stroke="#9467bd"/><line x1="927.96" y1="190.50" x2="955.73" y2="190.50" stroke="#8c564b"/><line x1="927.96" y1="211.50" x2="955.73" y2="211.50" stroke="#e377c2"/><line x1="927.96" y1="232.50" x2="955.73" y2="232.50" stroke="#7f7f7f"/><line x1="927.96" y1="253.50" x2="955.73" y2="253.50" stroke="#bcbd22"/><line x1="927.96" y1="274.50" x2="955.73" y2="274.50" stroke="#17becf"/><line x1="927.96" y1="295.50" x2="955.73" y2="295.50" stroke="#1f77b4"/><line x1="927.96" y1="316.50" x2="955.73" y2="316.50" stroke="#ff7f0e"/><line x1="927.96" y1="337.50" x2="955.73" y2="337.50" stroke="#2ca02c"/><line x1="927.96" y1="358.50" x2="955.73" y2="358.50" stroke="#d62728"/><line x1="927.96" y1="379.50" x2="955.73" y2="379.50" stroke="#9467bd"/><line x1="927.96" y1="400.50" x2="955.73" y2="400.50" stroke="#8c564b"/><line x1="927.96" y1="421.50" x2="955.73" y2="421.50" stroke="#e377c2"/><line x1="927.96" y1="442.50" x2="955.73" y2="442.50" stroke="#7f7f7f"/><line x1="927.96" y1="463.50" x2="955.73" y2="463.50" stroke="#bcbd22"/><line x1="927.96" y1="484.50" x2="955.73" y2="484.50" stroke="#17becf"/><line x1="927.96" y1="505.50" x2="955.73" y2="505.50" stroke="#1f77b4"/><line x1="927.96" y1="526.50" x2="955.73" y2="526.50" stroke="#ff7f0e"/><line x1="927.96" y1="547.50" x2="955.73" y2="547.50" stroke="#2ca02c"/><line x1="927.96" y1="568.50" x2="955.73" y2="568.50" stroke="#d62728"/></g><g font-size="13.889px" fill="#000"><text x="966.50" y="91.00">3.0</text><text x="966.50" y="112.00">4.0</text><text x="966.50" y="132.00">5.0</text><text x="966.50" y="153.00">6.0</text><text x="966.50" y="174.00">7.0</text><text x="966.50" y="195.00">8.0</text><text x="966.50" y="216.00">9.0</text><text x="966.50" y="237.00">10.0</text><text x="966.50" y="258.00">11.0</text><text x="966.50" y="279.00">12.0</text><text x="966.50" y="300.00">14.0</text><text x="966.50" y="321.00">15.0</text><text x="966.50" y="342.00">17.0</text><text x="966.50" y="363.00">18.0</text><text x="966.50" y="384.00">23.0</text><text x="966.50" y="405.00">24.0</text><text x="966.50" y="426.00">25.0</text><text x="966.50" y="447.00">26.0</text><text x="966.50" y="468.00">27.0</text><text x="966.50" y="489.00">28.0</text><text x="966.50" y="510.00">29.0</text><text x="966.50" y="531.00">30.0</text><text x="966.50" y="552.00">31.0</text><text x="966.50" y="573.00">32.0</text></g></g>
</svg></body></html>
